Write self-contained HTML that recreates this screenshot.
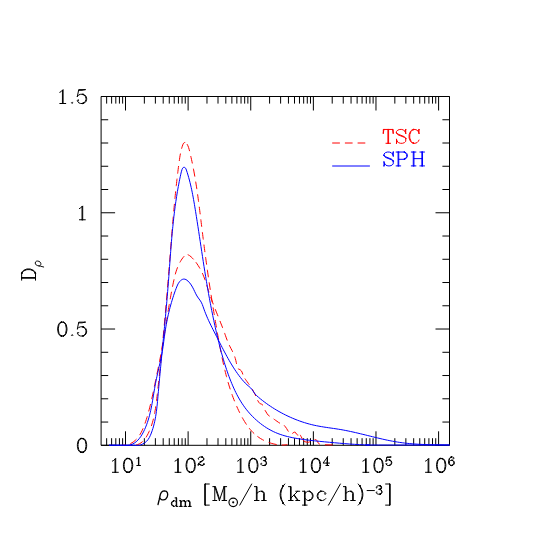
<!DOCTYPE html>
<html><head><meta charset="utf-8"><title>D rho</title>
<style>
html,body{margin:0;padding:0;background:#fff;font-family:"Liberation Sans",sans-serif}
svg{display:block}
.t{fill:none;stroke-linecap:round;stroke-linejoin:round;stroke-width:1.0}
.c{fill:none;stroke-width:1.0;stroke-linejoin:round}
</style></head><body>
<svg width="545" height="545" viewBox="0 0 545 545">
<desc>Plot of D_rho versus rho_dm [M_sun/h (kpc/h)^-3] on a log x axis from 10^1 to 10^6 and linear y axis 0, 0.5, 1, 1.5. Legend: TSC (red dashed), SPH (blue solid).</desc>
<rect width="545" height="545" fill="#fff"/>
<path d="M101.1 96.5H449.5V445.3H101.1Z" fill="none" stroke="#000" stroke-width="1"/>
<path d="M106.65 445.3v-7.1M106.65 96.5v7.1M111.61 445.3v-7.1M111.61 96.5v7.1M115.8 445.3v-7.1M115.8 96.5v7.1M119.43 445.3v-7.1M119.43 96.5v7.1M122.63 445.3v-7.1M122.63 96.5v7.1M125.5 445.3v-14M125.5 96.5v14M144.35 445.3v-7.1M144.35 96.5v7.1M155.38 445.3v-7.1M155.38 96.5v7.1M163.2 445.3v-7.1M163.2 96.5v7.1M169.27 445.3v-7.1M169.27 96.5v7.1M174.23 445.3v-7.1M174.23 96.5v7.1M178.42 445.3v-7.1M178.42 96.5v7.1M182.05 445.3v-7.1M182.05 96.5v7.1M185.25 445.3v-7.1M185.25 96.5v7.1M188.12 445.3v-14M188.12 96.5v14M206.97 445.3v-7.1M206.97 96.5v7.1M218 445.3v-7.1M218 96.5v7.1M225.82 445.3v-7.1M225.82 96.5v7.1M231.89 445.3v-7.1M231.89 96.5v7.1M236.85 445.3v-7.1M236.85 96.5v7.1M241.04 445.3v-7.1M241.04 96.5v7.1M244.67 445.3v-7.1M244.67 96.5v7.1M247.87 445.3v-7.1M247.87 96.5v7.1M250.74 445.3v-14M250.74 96.5v14M269.59 445.3v-7.1M269.59 96.5v7.1M280.62 445.3v-7.1M280.62 96.5v7.1M288.44 445.3v-7.1M288.44 96.5v7.1M294.51 445.3v-7.1M294.51 96.5v7.1M299.47 445.3v-7.1M299.47 96.5v7.1M303.66 445.3v-7.1M303.66 96.5v7.1M307.29 445.3v-7.1M307.29 96.5v7.1M310.49 445.3v-7.1M310.49 96.5v7.1M313.36 445.3v-14M313.36 96.5v14M332.21 445.3v-7.1M332.21 96.5v7.1M343.24 445.3v-7.1M343.24 96.5v7.1M351.06 445.3v-7.1M351.06 96.5v7.1M357.13 445.3v-7.1M357.13 96.5v7.1M362.09 445.3v-7.1M362.09 96.5v7.1M366.28 445.3v-7.1M366.28 96.5v7.1M369.91 445.3v-7.1M369.91 96.5v7.1M373.11 445.3v-7.1M373.11 96.5v7.1M375.98 445.3v-14M375.98 96.5v14M394.83 445.3v-7.1M394.83 96.5v7.1M405.86 445.3v-7.1M405.86 96.5v7.1M413.68 445.3v-7.1M413.68 96.5v7.1M419.75 445.3v-7.1M419.75 96.5v7.1M424.71 445.3v-7.1M424.71 96.5v7.1M428.9 445.3v-7.1M428.9 96.5v7.1M432.53 445.3v-7.1M432.53 96.5v7.1M435.73 445.3v-7.1M435.73 96.5v7.1M438.6 445.3v-14M438.6 96.5v14M101.1 445.3h14M449.5 445.3h-14M101.1 422.05h7.1M449.5 422.05h-7.1M101.1 398.79h7.1M449.5 398.79h-7.1M101.1 375.54h7.1M449.5 375.54h-7.1M101.1 352.29h7.1M449.5 352.29h-7.1M101.1 329.03h14M449.5 329.03h-14M101.1 305.78h7.1M449.5 305.78h-7.1M101.1 282.53h7.1M449.5 282.53h-7.1M101.1 259.27h7.1M449.5 259.27h-7.1M101.1 236.02h7.1M449.5 236.02h-7.1M101.1 212.77h14M449.5 212.77h-14M101.1 189.51h7.1M449.5 189.51h-7.1M101.1 166.26h7.1M449.5 166.26h-7.1M101.1 143.01h7.1M449.5 143.01h-7.1M101.1 119.75h7.1M449.5 119.75h-7.1M101.1 96.5h14M449.5 96.5h-14" fill="none" stroke="#000" stroke-width="1"/>
<path class="c" d="M129.5 445.3C129.83 445.29 130.83 445.24 131.5 445.22C132.17 445.2 132.83 445.21 133.5 445.18C134.16 445.15 134.83 445.13 135.49 445.04C136.14 444.95 136.81 444.83 137.45 444.64C138.08 444.44 138.7 444.16 139.29 443.86C139.88 443.56 140.45 443.21 141 442.83C141.54 442.45 142.06 442.02 142.55 441.58C143.04 441.13 143.5 440.65 143.94 440.15C144.38 439.65 144.8 439.13 145.19 438.59C145.58 438.05 145.95 437.49 146.3 436.93C146.65 436.36 146.98 435.78 147.3 435.19C147.62 434.61 147.92 434.01 148.22 433.42C148.52 432.82 148.8 432.22 149.08 431.61C149.36 431 149.62 430.39 149.88 429.78C150.14 429.16 150.39 428.55 150.63 427.92C150.86 427.3 151.09 426.67 151.31 426.04C151.52 425.41 151.73 424.78 151.94 424.14C152.14 423.51 152.33 422.87 152.52 422.23C152.71 421.59 152.88 420.95 153.06 420.3C153.23 419.66 153.4 419.01 153.55 418.37C153.71 417.72 153.86 417.07 154 416.42C154.14 415.76 154.28 415.11 154.41 414.46C154.54 413.8 154.67 413.15 154.79 412.49C154.91 411.84 155.03 411.18 155.14 410.53C155.25 409.87 155.36 409.21 155.47 408.55C155.57 407.89 155.67 407.23 155.76 406.57C155.86 405.91 155.95 405.25 156.04 404.59C156.13 403.93 156.22 403.27 156.3 402.61C156.39 401.95 156.47 401.29 156.55 400.62C156.63 399.96 156.71 399.3 156.79 398.64C156.87 397.98 156.94 397.31 157.02 396.65C157.1 395.99 157.17 395.33 157.25 394.66C157.32 394 157.4 393.34 157.47 392.68C157.55 392.01 157.62 391.35 157.69 390.69C157.77 390.03 157.84 389.36 157.91 388.7C157.99 388.04 158.06 387.38 158.13 386.71C158.21 386.05 158.28 385.39 158.35 384.72C158.43 384.06 158.5 383.4 158.57 382.74C158.64 382.07 158.71 381.41 158.78 380.75C158.86 380.08 158.93 379.42 159 378.76C159.07 378.09 159.14 377.43 159.21 376.77C159.28 376.11 159.35 375.44 159.42 374.78C159.49 374.12 159.56 373.45 159.63 372.79C159.7 372.13 159.77 371.46 159.84 370.8C159.91 370.14 159.98 369.47 160.05 368.81C160.12 368.15 160.18 367.49 160.25 366.82C160.32 366.16 160.39 365.5 160.46 364.83C160.53 364.17 160.59 363.51 160.66 362.84C160.73 362.18 160.8 361.52 160.86 360.85C160.93 360.19 161 359.53 161.06 358.86C161.13 358.2 161.2 357.53 161.26 356.87C161.33 356.21 161.39 355.54 161.46 354.88C161.53 354.22 161.59 353.55 161.66 352.89C161.72 352.23 161.79 351.56 161.85 350.9C161.92 350.24 161.98 349.57 162.05 348.91C162.11 348.25 162.18 347.58 162.24 346.92C162.3 346.25 162.37 345.59 162.43 344.93C162.49 344.26 162.56 343.6 162.62 342.94C162.69 342.27 162.75 341.61 162.81 340.94C162.87 340.28 162.94 339.62 163 338.95C163.06 338.29 163.13 337.63 163.19 336.96C163.25 336.3 163.31 335.63 163.37 334.97C163.44 334.31 163.5 333.64 163.56 332.98C163.62 332.31 163.68 331.65 163.74 330.99C163.8 330.32 163.87 329.66 163.93 328.99C163.99 328.33 164.05 327.67 164.11 327C164.17 326.34 164.23 325.67 164.29 325.01C164.35 324.35 164.41 323.68 164.47 323.02C164.53 322.35 164.59 321.69 164.65 321.03C164.71 320.36 164.77 319.7 164.83 319.03C164.89 318.37 164.95 317.71 165 317.04C165.06 316.38 165.12 315.71 165.18 315.05C165.24 314.38 165.3 313.72 165.36 313.06C165.41 312.39 165.47 311.73 165.53 311.06C165.59 310.4 165.65 309.73 165.71 309.07C165.76 308.41 165.82 307.74 165.88 307.08C165.94 306.41 165.99 305.75 166.05 305.08C166.11 304.42 166.16 303.76 166.22 303.09C166.28 302.43 166.34 301.76 166.39 301.1C166.45 300.43 166.51 299.77 166.56 299.11C166.62 298.44 166.67 297.78 166.73 297.11C166.79 296.45 166.84 295.78 166.9 295.12C166.95 294.46 167.01 293.79 167.07 293.13C167.12 292.46 167.18 291.8 167.23 291.13C167.29 290.47 167.34 289.8 167.4 289.14C167.45 288.48 167.51 287.81 167.56 287.15C167.62 286.48 167.67 285.82 167.73 285.15C167.78 284.49 167.84 283.82 167.89 283.16C167.95 282.49 168 281.83 168.06 281.17C168.11 280.5 168.17 279.84 168.22 279.17C168.27 278.51 168.33 277.84 168.38 277.18C168.44 276.51 168.49 275.85 168.54 275.18C168.6 274.52 168.65 273.86 168.71 273.19C168.76 272.53 168.81 271.86 168.87 271.2C168.92 270.53 168.97 269.87 169.03 269.2C169.08 268.54 169.13 267.87 169.19 267.21C169.24 266.54 169.29 265.88 169.34 265.21C169.4 264.55 169.45 263.89 169.5 263.22C169.56 262.56 169.61 261.89 169.66 261.23C169.71 260.56 169.77 259.9 169.82 259.23C169.87 258.57 169.93 257.9 169.98 257.24C170.03 256.57 170.08 255.91 170.13 255.24C170.19 254.58 170.24 253.92 170.29 253.25C170.34 252.59 170.4 251.92 170.45 251.26C170.5 250.59 170.55 249.93 170.61 249.26C170.66 248.6 170.71 247.93 170.76 247.27C170.82 246.6 170.87 245.94 170.92 245.27C170.97 244.61 171.03 243.94 171.08 243.28C171.13 242.62 171.18 241.95 171.24 241.29C171.29 240.62 171.34 239.96 171.4 239.29C171.45 238.63 171.5 237.96 171.56 237.3C171.61 236.63 171.66 235.97 171.72 235.3C171.77 234.64 171.82 233.98 171.88 233.31C171.93 232.65 171.98 231.98 172.04 231.32C172.09 230.65 172.15 229.99 172.2 229.32C172.26 228.66 172.31 227.99 172.37 227.33C172.42 226.67 172.48 226 172.53 225.34C172.59 224.67 172.64 224.01 172.7 223.34C172.76 222.68 172.81 222.01 172.87 221.35C172.92 220.69 172.98 220.02 173.04 219.36C173.1 218.69 173.15 218.03 173.21 217.36C173.27 216.7 173.33 216.04 173.38 215.37C173.44 214.71 173.5 214.04 173.56 213.38C173.62 212.71 173.68 212.05 173.74 211.39C173.8 210.72 173.86 210.06 173.92 209.39C173.98 208.73 174.04 208.07 174.1 207.4C174.16 206.74 174.22 206.07 174.29 205.41C174.35 204.75 174.41 204.08 174.47 203.42C174.53 202.75 174.6 202.09 174.66 201.43C174.73 200.76 174.79 200.1 174.85 199.44C174.92 198.77 174.98 198.11 175.05 197.45C175.12 196.78 175.18 196.12 175.25 195.46C175.31 194.79 175.38 194.13 175.45 193.47C175.52 192.8 175.58 192.14 175.65 191.48C175.72 190.81 175.79 190.15 175.86 189.49C175.93 188.82 176 188.16 176.07 187.5C176.14 186.83 176.21 186.17 176.29 185.51C176.36 184.84 176.43 184.18 176.5 183.52C176.58 182.86 176.65 182.19 176.72 181.53C176.8 180.87 176.87 180.21 176.95 179.54C177.03 178.88 177.1 178.22 177.18 177.56C177.26 176.89 177.33 176.23 177.41 175.57C177.49 174.91 177.61 173.92 177.65 173.58" stroke="#f00" stroke-dasharray="7.6 5.1" stroke-dashoffset="6.06"/>
<path class="c" d="M177.65 173.58C177.69 173.25 177.81 172.26 177.89 171.6C177.97 170.94 178.06 170.27 178.14 169.61C178.22 168.95 178.31 168.29 178.39 167.63C178.47 166.97 178.56 166.31 178.65 165.64C178.73 164.98 178.82 164.32 178.9 163.66C178.99 163 179.08 162.34 179.17 161.68C179.26 161.02 179.35 160.36 179.44 159.7C179.53 159.04 179.63 158.38 179.73 157.72C179.83 157.06 179.93 156.4 180.05 155.74C180.16 155.09 180.27 154.43 180.4 153.77C180.52 153.12 180.65 152.46 180.79 151.81C180.93 151.16 181.12 150.39 181.25 149.87C181.38 149.34 181.52 148.86 181.57 148.66" stroke="#f00" stroke-dasharray="7.6 5.1"/>
<path class="c" d="M181.57 148.66C181.67 148.34 181.93 147.37 182.13 146.74C182.33 146.1 182.52 145.45 182.78 144.85C183.04 144.24 183.3 143.48 183.71 143.08C184.12 142.69 184.75 142.37 185.24 142.46C185.74 142.55 186.4 143.36 186.69 143.62C186.98 143.88 186.93 143.96 186.98 144.03" stroke="#f00" stroke-dasharray="7.6 5.1"/>
<path class="c" d="M186.98 144.03C187.13 144.32 187.63 145.19 187.91 145.79C188.18 146.39 188.41 147.02 188.63 147.65C188.84 148.28 189.02 148.93 189.19 149.57C189.37 150.21 189.52 150.86 189.68 151.51C189.84 152.16 189.99 152.81 190.14 153.46C190.3 154.11 190.45 154.76 190.6 155.41C190.75 156.06 190.9 156.71 191.04 157.36C191.19 158.01 191.34 158.66 191.48 159.31C191.62 159.96 191.76 160.61 191.9 161.26C192.04 161.92 192.17 162.57 192.31 163.22C192.44 163.87 192.58 164.53 192.71 165.18C192.84 165.84 192.97 166.49 193.1 167.14C193.23 167.8 193.41 168.78 193.48 169.11" stroke="#f00" stroke-dasharray="7.6 5.1"/>
<path class="c" d="M193.48 169.11C193.54 169.44 193.73 170.42 193.85 171.07C193.97 171.73 194.09 172.38 194.21 173.04C194.32 173.7 194.44 174.35 194.56 175.01C194.67 175.67 194.79 176.32 194.9 176.98C195.01 177.64 195.13 178.3 195.24 178.95C195.35 179.61 195.45 180.27 195.56 180.93C195.67 181.58 195.78 182.24 195.88 182.9C195.99 183.56 196.09 184.22 196.19 184.88C196.29 185.54 196.4 186.2 196.5 186.85C196.6 187.51 196.7 188.17 196.8 188.83C196.89 189.49 196.99 190.15 197.09 190.81C197.18 191.47 197.28 192.13 197.37 192.79C197.47 193.45 197.56 194.11 197.65 194.77C197.74 195.43 197.84 196.09 197.93 196.75C198.02 197.41 198.11 198.07 198.2 198.73C198.29 199.4 198.38 200.06 198.46 200.72C198.55 201.38 198.64 202.04 198.73 202.7C198.81 203.36 198.9 204.02 198.98 204.68C199.07 205.35 199.15 206.01 199.24 206.67C199.32 207.33 199.41 207.99 199.49 208.65C199.57 209.31 199.66 209.98 199.74 210.64C199.82 211.3 199.9 211.96 199.99 212.62C200.07 213.28 200.15 213.95 200.23 214.61C200.31 215.27 200.39 215.93 200.47 216.59C200.56 217.25 200.64 217.92 200.72 218.58C200.8 219.24 200.88 219.9 200.96 220.56C201.04 221.23 201.12 221.89 201.2 222.55C201.28 223.21 201.36 223.87 201.44 224.54C201.52 225.2 201.6 225.86 201.68 226.52C201.76 227.18 201.84 227.84 201.92 228.51C202 229.17 202.08 229.83 202.17 230.49C202.25 231.15 202.33 231.82 202.41 232.48C202.49 233.14 202.57 233.8 202.66 234.46C202.74 235.12 202.82 235.79 202.9 236.45C202.99 237.11 203.07 237.77 203.15 238.43C203.23 239.09 203.32 239.76 203.4 240.42C203.49 241.08 203.57 241.74 203.65 242.4C203.74 243.06 203.82 243.72 203.91 244.39C203.99 245.05 204.08 245.71 204.16 246.37C204.25 247.03 204.34 247.69 204.42 248.35C204.51 249.01 204.59 249.68 204.68 250.34C204.77 251 204.85 251.66 204.94 252.32C205.03 252.98 205.12 253.64 205.21 254.3C205.29 254.96 205.38 255.62 205.47 256.29C205.56 256.95 205.65 257.61 205.74 258.27C205.83 258.93 205.92 259.59 206.01 260.25C206.1 260.91 206.19 261.57 206.28 262.23C206.37 262.89 206.46 263.55 206.55 264.21C206.64 264.87 206.73 265.53 206.82 266.19C206.92 266.85 207.01 267.52 207.1 268.18C207.19 268.84 207.29 269.5 207.38 270.16C207.47 270.82 207.57 271.48 207.66 272.14C207.76 272.8 207.85 273.46 207.94 274.12C208.04 274.78 208.13 275.44 208.23 276.1C208.33 276.76 208.42 277.42 208.52 278.08C208.61 278.74 208.71 279.4 208.81 280.06C208.9 280.71 209 281.37 209.1 282.03C209.2 282.69 209.3 283.35 209.39 284.01C209.49 284.67 209.59 285.33 209.69 285.99C209.79 286.65 209.89 287.31 209.99 287.97C210.09 288.63 210.19 289.29 210.29 289.95C210.39 290.61 210.49 291.26 210.6 291.92C210.7 292.58 210.8 293.24 210.9 293.9C211 294.56 211.11 295.22 211.21 295.88C211.31 296.53 211.42 297.19 211.52 297.85C211.63 298.51 211.73 299.17 211.83 299.83C211.94 300.49 212.04 301.14 212.15 301.8C212.26 302.46 212.36 303.12 212.47 303.78C212.57 304.44 212.68 305.09 212.79 305.75C212.89 306.41 213 307.07 213.11 307.73C213.22 308.38 213.33 309.04 213.43 309.7C213.54 310.36 213.65 311.02 213.76 311.67C213.87 312.33 213.98 312.99 214.09 313.65C214.2 314.3 214.31 314.96 214.42 315.62C214.53 316.28 214.64 316.94 214.75 317.59C214.86 318.25 214.97 318.91 215.09 319.56C215.2 320.22 215.31 320.88 215.42 321.54C215.54 322.19 215.65 322.85 215.76 323.51C215.88 324.16 215.99 324.82 216.1 325.48C216.22 326.14 216.33 326.79 216.45 327.45C216.56 328.11 216.67 328.76 216.79 329.42C216.9 330.08 217.02 330.73 217.14 331.39C217.25 332.05 217.37 332.7 217.48 333.36C217.6 334.02 217.72 334.67 217.83 335.33C217.95 335.99 218.07 336.64 218.19 337.3C218.3 337.95 218.42 338.61 218.54 339.27C218.66 339.92 218.78 340.58 218.9 341.24C219.02 341.89 219.14 342.55 219.26 343.2C219.38 343.86 219.5 344.51 219.62 345.17C219.74 345.83 219.87 346.48 219.99 347.14C220.11 347.79 220.24 348.45 220.36 349.1C220.49 349.76 220.62 350.41 220.74 351.06C220.87 351.72 221 352.37 221.13 353.03C221.26 353.68 221.39 354.34 221.52 354.99C221.65 355.64 221.79 356.3 221.92 356.95C222.06 357.6 222.19 358.25 222.33 358.91C222.47 359.56 222.61 360.21 222.75 360.86C222.89 361.52 223.03 362.17 223.17 362.82C223.32 363.47 223.46 364.12 223.61 364.77C223.75 365.42 223.9 366.07 224.05 366.72C224.2 367.37 224.35 368.02 224.51 368.67C224.66 369.32 224.82 369.96 224.98 370.61C225.14 371.26 225.3 371.91 225.46 372.55C225.62 373.2 225.78 373.85 225.95 374.49C226.11 375.14 226.28 375.78 226.45 376.43C226.63 377.07 226.8 377.72 226.98 378.36C227.15 379 227.33 379.65 227.51 380.29C227.69 380.93 227.87 381.57 228.06 382.21C228.24 382.85 228.43 383.49 228.62 384.13C228.81 384.77 229.01 385.41 229.2 386.04C229.4 386.68 229.6 387.32 229.8 387.95C230 388.59 230.21 389.22 230.42 389.86C230.63 390.49 230.84 391.12 231.05 391.75C231.26 392.38 231.48 393.02 231.7 393.64C231.92 394.27 232.15 394.9 232.37 395.53C232.6 396.16 232.83 396.78 233.07 397.4C233.3 398.03 233.54 398.65 233.78 399.27C234.02 399.9 234.27 400.52 234.51 401.13C234.76 401.75 235.01 402.37 235.27 402.99C235.52 403.6 235.78 404.22 236.05 404.83C236.31 405.44 236.58 406.05 236.85 406.66C237.12 407.27 237.4 407.88 237.68 408.48C237.95 409.09 238.24 409.69 238.52 410.3C238.81 410.9 239.1 411.5 239.4 412.1C239.69 412.69 239.99 413.29 240.29 413.88C240.6 414.48 240.91 415.07 241.22 415.66C241.53 416.24 241.95 417.01 242.17 417.41C242.39 417.82 242.47 417.96 242.53 418.07" stroke="#f00" stroke-dasharray="7.6 5.1"/>
<path class="c" d="M242.53 418.07C242.7 418.36 243.19 419.23 243.53 419.81C243.87 420.38 244.21 420.96 244.56 421.52C244.91 422.09 245.26 422.66 245.62 423.22C245.98 423.78 246.35 424.33 246.73 424.88C247.11 425.43 247.49 425.98 247.89 426.51C248.28 427.05 248.9 427.84 249.1 428.1" stroke="#f00" stroke-dasharray="7.6 5.1"/>
<path class="c" d="M249.1 428.1C249.32 428.36 249.94 429.14 250.37 429.65C250.8 430.15 251.25 430.65 251.7 431.14C252.15 431.64 252.61 432.12 253.08 432.59C253.55 433.06 254.03 433.53 254.52 433.98C255.01 434.43 255.55 434.88 256.04 435.28C256.52 435.68 257.18 436.18 257.41 436.36" stroke="#f00" stroke-dasharray="7.6 5.1"/>
<path class="c" d="M257.41 436.36C257.68 436.56 258.48 437.16 259.03 437.54C259.58 437.91 260.14 438.28 260.7 438.63C261.27 438.98 261.85 439.31 262.44 439.63C263.02 439.95 263.62 440.25 264.22 440.54C264.82 440.83 265.42 441.11 266.03 441.38C266.64 441.65 267.34 441.93 267.88 442.14C268.42 442.36 269.06 442.56 269.29 442.65" stroke="#f00" stroke-dasharray="7.6 5.1"/>
<path class="c" d="M269.29 442.65C269.61 442.75 270.56 443.07 271.2 443.26C271.84 443.45 272.48 443.63 273.12 443.79C273.77 443.96 274.42 444.11 275.07 444.24C275.73 444.37 276.39 444.48 277.04 444.58C277.7 444.68 278.37 444.76 279.03 444.82C279.69 444.89 280.36 444.94 281.02 444.97C281.69 445 282.36 445.02 283.02 445.01C283.69 445 284.36 444.97 285.02 444.92C285.68 444.86 286.59 444.72 287 444.67C287.42 444.61 287.42 444.61 287.5 444.6" stroke="#f00" stroke-dasharray="7.6 5.1"/>

<path class="c" d="M122.5 445.3C122.83 445.27 123.83 445.22 124.49 445.15C125.16 445.07 125.82 444.97 126.47 444.83C127.12 444.7 127.77 444.54 128.4 444.34C129.03 444.14 129.66 443.91 130.27 443.64C130.88 443.38 131.48 443.08 132.06 442.74C132.63 442.4 133.18 442.02 133.72 441.62C134.25 441.23 134.76 440.8 135.26 440.35C135.75 439.9 136.22 439.43 136.67 438.94C137.12 438.45 137.55 437.94 137.97 437.42C138.38 436.9 138.77 436.36 139.15 435.81C139.53 435.26 139.89 434.7 140.23 434.13C140.58 433.56 140.9 432.97 141.21 432.38C141.52 431.79 141.81 431.19 142.1 430.59C142.39 429.99 142.66 429.38 142.93 428.77C143.19 428.16 143.45 427.54 143.7 426.92C143.95 426.31 144.19 425.68 144.42 425.06C144.65 424.43 144.87 423.8 145.09 423.17C145.31 422.54 145.52 421.91 145.73 421.28C145.94 420.65 146.15 420.01 146.35 419.38C146.55 418.74 146.75 418.11 146.95 417.47C147.14 416.83 147.33 416.19 147.52 415.55C147.71 414.91 147.89 414.27 148.07 413.63C148.26 412.99 148.43 412.35 148.61 411.7C148.79 411.06 148.96 410.42 149.13 409.77C149.3 409.13 149.47 408.48 149.63 407.84C149.8 407.19 149.96 406.54 150.12 405.9C150.28 405.25 150.44 404.6 150.59 403.95C150.75 403.3 150.9 402.65 151.05 402C151.2 401.36 151.35 400.71 151.5 400.06C151.65 399.41 151.79 398.75 151.94 398.1C152.08 397.45 152.22 396.8 152.36 396.15C152.51 395.5 152.65 394.85 152.78 394.19C152.92 393.54 153.06 392.89 153.2 392.24C153.34 391.58 153.47 390.93 153.61 390.28C153.74 389.63 153.88 388.97 154.01 388.32C154.15 387.67 154.28 387.01 154.42 386.36C154.55 385.71 154.68 385.05 154.82 384.4C154.95 383.75 155.09 383.1 155.22 382.44C155.35 381.79 155.49 381.14 155.62 380.48C155.76 379.83 155.89 379.18 156.03 378.52C156.16 377.87 156.3 377.22 156.43 376.57C156.57 375.91 156.7 375.26 156.84 374.61C156.97 373.95 157.11 373.3 157.24 372.65C157.38 372 157.51 371.34 157.65 370.69C157.78 370.04 157.92 369.38 158.05 368.73C158.18 368.08 158.32 367.42 158.45 366.77C158.58 366.12 158.72 365.46 158.85 364.81C158.98 364.16 159.11 363.5 159.24 362.85C159.37 362.2 159.5 361.54 159.63 360.89C159.76 360.23 159.89 359.58 160.02 358.92C160.15 358.27 160.28 357.62 160.4 356.96C160.53 356.31 160.66 355.65 160.78 355C160.91 354.34 161.03 353.69 161.15 353.03C161.28 352.38 161.4 351.72 161.52 351.07C161.64 350.41 161.76 349.75 161.88 349.1C162 348.44 162.12 347.79 162.24 347.13C162.35 346.47 162.47 345.82 162.58 345.16C162.7 344.5 162.81 343.85 162.93 343.19C163.04 342.53 163.15 341.87 163.26 341.22C163.38 340.56 163.49 339.9 163.6 339.25C163.71 338.59 163.82 337.93 163.93 337.27C164.04 336.61 164.14 335.96 164.25 335.3C164.36 334.64 164.47 333.98 164.57 333.32C164.68 332.67 164.79 332.01 164.89 331.35C165 330.69 165.11 330.03 165.21 329.38C165.32 328.72 165.42 328.06 165.53 327.4C165.63 326.74 165.74 326.08 165.84 325.43C165.95 324.77 166.05 324.11 166.16 323.45C166.26 322.79 166.37 322.13 166.47 321.47C166.58 320.82 166.68 320.16 166.79 319.5C166.89 318.84 167 318.18 167.1 317.52C167.21 316.87 167.32 316.21 167.42 315.55C167.53 314.89 167.63 314.23 167.74 313.57C167.85 312.92 167.95 312.26 168.06 311.6C168.17 310.94 168.28 310.28 168.38 309.63C168.49 308.97 168.6 308.31 168.71 307.65C168.82 306.99 168.93 306.34 169.04 305.68C169.15 305.02 169.26 304.37 169.38 303.71C169.49 303.05 169.6 302.39 169.71 301.74C169.83 301.08 169.94 300.42 170.06 299.77C170.17 299.11 170.29 298.45 170.41 297.8C170.53 297.14 170.65 296.48 170.77 295.83C170.89 295.17 171.01 294.52 171.13 293.86C171.25 293.21 171.37 292.55 171.5 291.9C171.62 291.24 171.75 290.59 171.87 289.93C172 289.28 172.15 288.5 172.26 287.97C172.36 287.44 172.46 286.95 172.5 286.74" stroke="#f00" stroke-dasharray="7.6 5.1" stroke-dashoffset="4.53"/>
<path class="c" d="M172.5 286.74C172.57 286.42 172.77 285.44 172.9 284.78C173.04 284.13 173.17 283.48 173.31 282.82C173.45 282.17 173.59 281.52 173.73 280.87C173.87 280.22 174.02 279.57 174.16 278.92C174.31 278.27 174.46 277.62 174.62 276.97C174.77 276.32 174.93 275.67 175.09 275.03C175.26 274.38 175.43 273.73 175.62 273.09C175.8 272.45 175.99 271.81 176.19 271.18C176.4 270.54 176.61 269.91 176.83 269.28C177.05 268.66 177.29 268.03 177.53 267.41C177.78 266.79 178.03 266.17 178.3 265.56C178.57 264.96 178.89 264.28 179.16 263.76C179.42 263.24 179.75 262.66 179.87 262.44" stroke="#f00" stroke-dasharray="7.6 5.1"/>
<path class="c" d="M179.87 262.44C180.03 262.15 180.52 261.28 180.87 260.71C181.22 260.14 181.57 259.57 181.95 259.02C182.33 258.48 182.73 257.94 183.15 257.42C183.57 256.91 184 256.38 184.49 255.94C184.98 255.51 185.54 255.04 186.08 254.82C186.62 254.6 187.45 254.66 187.72 254.63" stroke="#f00" stroke-dasharray="7.6 5.1"/>
<path class="c" d="M187.72 254.63C188.02 254.78 188.93 255.19 189.49 255.55C190.05 255.91 190.56 256.35 191.06 256.79C191.56 257.23 192.03 257.7 192.49 258.18C192.96 258.66 193.4 259.16 193.83 259.67C194.27 260.17 194.76 260.79 195.1 261.22C195.44 261.64 195.73 262.04 195.86 262.21" stroke="#f00" stroke-dasharray="7.6 5.1"/>
<path class="c" d="M195.86 262.21C196.06 262.48 196.64 263.29 197.02 263.84C197.4 264.38 197.77 264.94 198.13 265.5C198.49 266.06 198.85 266.63 199.19 267.2C199.53 267.77 199.87 268.34 200.2 268.92C200.52 269.51 200.83 270.1 201.14 270.69C201.44 271.28 201.73 271.88 202.02 272.49C202.3 273.09 202.58 273.7 202.85 274.31C203.11 274.92 203.37 275.53 203.62 276.15C203.87 276.77 204.11 277.39 204.35 278.01C204.58 278.64 204.8 279.27 205.02 279.9C205.24 280.53 205.45 281.16 205.66 281.79C205.87 282.42 206.1 283.14 206.28 283.69C206.46 284.25 206.66 284.89 206.73 285.12" stroke="#f00" stroke-dasharray="7.6 5.1"/>
<path class="c" d="M206.73 285.12C206.83 285.44 207.13 286.4 207.33 287.03C207.52 287.67 207.72 288.31 207.92 288.94C208.12 289.58 208.32 290.22 208.52 290.85C208.73 291.49 208.93 292.12 209.14 292.75C209.35 293.39 209.56 294.02 209.78 294.65C209.99 295.28 210.21 295.91 210.43 296.54C210.66 297.17 210.88 297.8 211.11 298.42C211.33 299.05 211.56 299.68 211.79 300.3C212.03 300.93 212.26 301.55 212.49 302.18C212.73 302.8 212.97 303.42 213.21 304.04C213.44 304.67 213.69 305.29 213.93 305.91C214.17 306.53 214.44 307.23 214.66 307.77C214.87 308.32 215.12 308.93 215.21 309.17" stroke="#f00" stroke-dasharray="7.6 5.1"/>
<path class="c" d="M215.21 309.17C215.33 309.48 215.7 310.41 215.95 311.03C216.2 311.65 216.45 312.26 216.69 312.88C216.94 313.5 217.19 314.12 217.44 314.74C217.69 315.36 217.94 315.97 218.19 316.59C218.44 317.21 218.69 317.83 218.93 318.45C219.18 319.07 219.43 319.69 219.68 320.31C219.93 320.92 220.17 321.54 220.42 322.16C220.67 322.78 220.91 323.4 221.15 324.02C221.4 324.64 221.64 325.27 221.88 325.89C222.12 326.51 222.36 327.13 222.6 327.75C222.84 328.38 223.08 329 223.31 329.62C223.55 330.25 223.78 330.87 224.01 331.5C224.24 332.12 224.58 333.07 224.69 333.38" stroke="#f00" stroke-dasharray="7.6 5.1"/>
<path class="c" d="M224.69 333.38C224.8 333.69 225.14 334.64 225.36 335.26C225.58 335.89 225.8 336.52 226.03 337.15C226.26 337.78 226.48 338.4 226.71 339.03C226.95 339.65 227.18 340.28 227.43 340.9C227.67 341.52 227.93 342.13 228.19 342.75C228.45 343.36 228.84 344.19 229.01 344.57C229.18 344.95 229.18 344.95 229.22 345.02" stroke="#f00" stroke-dasharray="7.6 5.1"/>
<path class="c" d="M229.22 345.02C229.37 345.32 229.8 346.22 230.1 346.82C230.4 347.41 230.71 348.01 231.01 348.6C231.32 349.19 231.63 349.78 231.94 350.37C232.24 350.97 232.54 351.56 232.83 352.16C233.12 352.76 233.4 353.37 233.67 353.98C233.94 354.59 234.26 355.4 234.43 355.83C234.6 356.25 234.65 356.41 234.69 356.53" stroke="#f00" stroke-dasharray="7.6 5.1"/>
<path class="c" d="M234.69 356.53C234.79 356.85 235.11 357.8 235.29 358.44C235.48 359.08 235.64 359.72 235.8 360.37C235.96 361.02 236.1 361.67 236.24 362.32C236.38 362.97 236.51 363.63 236.65 364.28C236.8 364.93 236.9 365.6 237.09 366.23C237.29 366.86 237.63 367.62 237.83 368.08C238.02 368.53 238.2 368.82 238.28 368.97" stroke="#f00" stroke-dasharray="7.6 5.1"/>
<path class="c" d="M238.28 368.97C238.59 369.09 239.58 369.37 240.12 369.72C240.66 370.07 241.14 370.54 241.51 371.06C241.88 371.58 242.1 372.24 242.34 372.85C242.58 373.46 242.72 374.13 242.96 374.75C243.2 375.37 243.46 375.99 243.76 376.58C244.06 377.17 244.58 377.98 244.77 378.31C244.96 378.63 244.88 378.49 244.9 378.52" stroke="#f00" stroke-dasharray="7.6 5.1"/>
<path class="c" d="M244.9 378.52C245.09 378.8 245.64 379.63 246.02 380.18C246.41 380.72 246.8 381.26 247.2 381.8C247.59 382.33 247.99 382.87 248.38 383.41C248.77 383.95 249.17 384.48 249.55 385.03C249.93 385.58 250.3 386.13 250.67 386.69C251.03 387.25 251.47 387.96 251.73 388.38C252 388.81 252.17 389.09 252.25 389.24" stroke="#f00" stroke-dasharray="7.6 5.1"/>
<path class="c" d="M252.25 389.24C252.42 389.52 252.92 390.39 253.24 390.97C253.56 391.56 253.88 392.15 254.18 392.74C254.49 393.33 254.78 393.93 255.07 394.53C255.36 395.13 255.65 395.73 255.92 396.34C256.2 396.95 256.47 397.56 256.73 398.17C256.99 398.79 257.34 399.68 257.49 400.02C257.63 400.37 257.57 400.22 257.58 400.25" stroke="#f00" stroke-dasharray="7.6 5.1"/>
<path class="c" d="M257.58 400.25C257.75 400.54 258.23 401.44 258.6 401.97C258.98 402.51 259.31 403.1 259.82 403.47C260.33 403.85 261.12 403.91 261.67 404.23C262.21 404.56 262.73 404.91 263.09 405.42C263.45 405.93 263.58 406.66 263.83 407.28C264.08 407.9 264.37 408.63 264.57 409.13C264.78 409.64 264.97 410.1 265.05 410.29" stroke="#f00" stroke-dasharray="7.6 5.1"/>
<path class="c" d="M265.05 410.29C265.23 410.57 265.74 411.43 266.09 412C266.43 412.57 266.75 413.17 267.12 413.71C267.49 414.26 267.84 414.83 268.31 415.28C268.78 415.73 269.41 416.03 269.96 416.41C270.51 416.78 271.06 417.16 271.61 417.54C272.16 417.91 272.92 418.43 273.26 418.67C273.61 418.9 273.61 418.9 273.68 418.95" stroke="#f00" stroke-dasharray="7.6 5.1"/>
<path class="c" d="M273.68 418.95C273.95 419.14 274.77 419.72 275.31 420.1C275.85 420.49 276.4 420.87 276.94 421.26C277.49 421.64 278.02 422.05 278.57 422.41C279.13 422.78 279.7 423.12 280.29 423.43C280.87 423.75 281.48 424.02 282.08 424.31C282.68 424.61 283.54 425.03 283.88 425.19C284.22 425.36 284.07 425.29 284.1 425.3" stroke="#f00" stroke-dasharray="7.6 5.1"/>
<path class="c" d="M284.1 425.3C284.32 425.56 284.98 426.31 285.39 426.84C285.8 427.36 286.21 427.89 286.57 428.44C286.93 429 287.2 429.62 287.55 430.18C287.9 430.75 288.23 431.33 288.66 431.83C289.09 432.32 289.58 432.89 290.15 433.16C290.72 433.44 291.72 433.42 292.09 433.47C292.45 433.53 292.3 433.49 292.34 433.49" stroke="#f00" stroke-dasharray="7.6 5.1"/>
<path class="c" d="M292.34 433.49C292.61 433.3 293.45 432.53 293.94 432.33C294.44 432.12 294.92 432 295.32 432.28C295.73 432.55 295.96 433.5 296.38 433.97C296.81 434.44 297.31 434.93 297.88 435.09C298.45 435.25 299.4 434.96 299.8 434.93C300.19 434.89 300.16 434.88 300.24 434.87" stroke="#f00" stroke-dasharray="7.6 5.1"/>
<path class="c" d="M300.24 434.87C300.39 435.16 300.84 436.06 301.15 436.65C301.46 437.24 301.76 437.83 302.09 438.41C302.42 438.99 302.91 439.77 303.13 440.12C303.34 440.48 303.34 440.48 303.39 440.55" stroke="#f00" stroke-dasharray="7.6 5.1"/>
<path class="c" d="M303.39 440.55C303.63 440.75 304.29 441.46 304.86 441.72C305.42 441.98 306.14 442.05 306.79 442.13C307.45 442.21 308.17 442.35 308.79 442.2C309.41 442.04 309.94 441.54 310.51 441.21C311.09 440.88 311.64 440.49 312.24 440.21C312.84 439.93 313.73 439.66 314.12 439.52C314.51 439.37 314.51 439.37 314.59 439.34" stroke="#f00" stroke-dasharray="7.6 5.1"/>
<path class="c" d="M314.59 439.34C314.89 439.43 315.94 439.52 316.42 439.9C316.89 440.28 317.1 441.04 317.44 441.62C317.78 442.19 318.03 442.88 318.46 443.33C318.9 443.79 319.47 444.13 320.06 444.36C320.65 444.59 321.34 444.65 322 444.72C322.66 444.79 323.33 444.74 324 444.76C324.67 444.77 325.33 444.78 326 444.79C326.67 444.81 327.33 444.82 328 444.83C328.67 444.84 329.33 444.86 330 444.87C330.67 444.88 331.33 444.89 332 444.91C332.67 444.92 333.33 444.93 334 444.94C334.67 444.96 335.5 444.97 336 444.98C336.5 444.99 336.83 445 337 445" stroke="#f00" stroke-dasharray="7.6 5.1"/>

<path class="c" d="M109 445.2C112.83 445.2 127.8 445.18 132 445.2C136.2 445.22 133.41 445.28 134.2 445.3C135 445.32 135.89 445.32 136.78 445.3C137.66 445.28 138.6 445.37 139.5 445.2C140.4 445.03 141.33 444.64 142.17 444.27C143.01 443.9 143.84 443.46 144.56 442.97C145.29 442.49 145.94 441.94 146.53 441.36C147.12 440.79 147.63 440.16 148.11 439.51C148.58 438.86 148.99 438.16 149.38 437.46C149.77 436.76 150.1 436.02 150.43 435.28C150.76 434.54 151.05 433.79 151.34 433.03C151.63 432.27 151.9 431.51 152.17 430.74C152.43 429.97 152.68 429.2 152.91 428.42C153.15 427.64 153.37 426.86 153.59 426.07C153.8 425.28 154 424.49 154.19 423.69C154.38 422.89 154.56 422.09 154.74 421.29C154.91 420.48 155.07 419.67 155.22 418.86C155.38 418.05 155.52 417.23 155.66 416.41C155.8 415.59 155.93 414.77 156.05 413.95C156.18 413.12 156.29 412.3 156.4 411.47C156.51 410.64 156.62 409.81 156.72 408.97C156.82 408.14 156.91 407.31 157 406.47C157.09 405.63 157.18 404.79 157.27 403.96C157.35 403.12 157.43 402.28 157.51 401.43C157.59 400.59 157.66 399.75 157.74 398.91C157.81 398.07 157.89 397.23 157.96 396.38C158.03 395.54 158.11 394.7 158.18 393.86C158.25 393.02 158.33 392.17 158.4 391.33C158.48 390.49 158.55 389.65 158.63 388.81C158.7 387.97 158.78 387.13 158.85 386.29C158.93 385.45 159 384.62 159.08 383.78C159.16 382.94 159.23 382.1 159.31 381.26C159.39 380.42 159.46 379.59 159.54 378.75C159.62 377.91 159.7 377.07 159.77 376.24C159.85 375.4 159.93 374.57 160.01 373.73C160.09 372.89 160.17 372.06 160.24 371.22C160.32 370.39 160.4 369.55 160.48 368.72C160.56 367.88 160.64 367.05 160.72 366.21C160.8 365.38 160.88 364.54 160.96 363.71C161.04 362.88 161.12 362.04 161.2 361.21C161.28 360.38 161.36 359.54 161.44 358.71C161.52 357.88 161.6 357.04 161.68 356.21C161.76 355.38 161.84 354.55 161.92 353.71C162 352.88 162.08 352.05 162.16 351.22C162.24 350.39 162.32 349.56 162.4 348.72C162.48 347.89 162.56 347.06 162.64 346.23C162.72 345.4 162.8 344.57 162.88 343.74C162.97 342.9 163.05 342.07 163.13 341.24C163.21 340.41 163.29 339.58 163.37 338.75C163.45 337.92 163.53 337.09 163.61 336.26C163.69 335.43 163.77 334.6 163.85 333.77C163.92 332.94 164 332.11 164.08 331.28C164.16 330.45 164.24 329.62 164.32 328.79C164.4 327.96 164.48 327.13 164.56 326.3C164.64 325.47 164.71 324.64 164.79 323.81C164.87 322.98 164.95 322.15 165.02 321.32C165.1 320.49 165.18 319.66 165.26 318.83C165.33 318 165.41 317.17 165.49 316.34C165.56 315.51 165.64 314.68 165.72 313.85C165.79 313.02 165.87 312.18 165.94 311.35C166.02 310.52 166.09 309.69 166.17 308.86C166.24 308.03 166.32 307.2 166.39 306.37C166.46 305.54 166.54 304.71 166.61 303.88C166.68 303.05 166.75 302.22 166.83 301.39C166.9 300.55 166.97 299.72 167.04 298.89C167.11 298.06 167.18 297.23 167.25 296.4C167.32 295.56 167.39 294.73 167.46 293.9C167.53 293.07 167.6 292.24 167.67 291.4C167.74 290.57 167.8 289.74 167.87 288.91C167.94 288.07 168 287.24 168.07 286.41C168.14 285.57 168.2 284.74 168.27 283.91C168.33 283.07 168.4 282.24 168.46 281.4C168.52 280.57 168.59 279.74 168.65 278.9C168.71 278.07 168.77 277.23 168.84 276.4C168.9 275.56 168.96 274.73 169.02 273.89C169.08 273.06 169.14 272.22 169.21 271.39C169.27 270.55 169.33 269.71 169.39 268.88C169.45 268.04 169.51 267.21 169.57 266.37C169.63 265.54 169.69 264.7 169.75 263.86C169.81 263.03 169.88 262.19 169.94 261.36C170 260.52 170.06 259.68 170.12 258.85C170.18 258.01 170.25 257.18 170.31 256.34C170.37 255.5 170.43 254.67 170.5 253.83C170.56 253 170.62 252.16 170.69 251.32C170.75 250.49 170.82 249.65 170.88 248.82C170.95 247.98 171.01 247.15 171.08 246.31C171.15 245.47 171.21 244.64 171.28 243.8C171.35 242.97 171.42 242.13 171.49 241.3C171.56 240.46 171.63 239.63 171.7 238.79C171.77 237.96 171.84 237.13 171.92 236.29C171.99 235.46 172.07 234.62 172.14 233.79C172.22 232.96 172.29 232.12 172.37 231.29C172.45 230.46 172.53 229.62 172.61 228.79C172.69 227.96 172.77 227.12 172.86 226.29C172.94 225.46 173.03 224.63 173.11 223.8C173.2 222.96 173.29 222.13 173.38 221.3C173.47 220.47 173.56 219.64 173.65 218.81C173.74 217.98 173.84 217.15 173.93 216.32C174.03 215.49 174.13 214.66 174.23 213.83C174.33 213.01 174.43 212.18 174.53 211.35C174.63 210.52 174.74 209.69 174.85 208.87C174.95 208.04 175.06 207.21 175.17 206.38C175.29 205.56 175.4 204.73 175.51 203.9C175.63 203.08 175.75 202.25 175.87 201.43C175.99 200.6 176.11 199.78 176.24 198.95C176.36 198.12 176.49 197.3 176.62 196.47C176.75 195.65 176.88 194.83 177.01 194C177.15 193.18 177.28 192.35 177.42 191.53C177.56 190.7 177.71 189.88 177.85 189.06C178 188.23 178.14 187.41 178.29 186.59C178.44 185.76 178.6 184.94 178.75 184.12C178.91 183.29 179.07 182.47 179.23 181.65C179.39 180.83 179.56 180 179.72 179.18C179.89 178.36 180.06 177.54 180.24 176.72C180.41 175.9 180.59 175.08 180.77 174.27C180.95 173.45 181.1 172.64 181.32 171.82C181.54 171.01 181.72 170.13 182.07 169.38C182.43 168.63 182.94 167.59 183.47 167.33C184.01 167.07 184.8 167.38 185.29 167.84C185.78 168.29 186.08 169.27 186.4 170.06C186.73 170.84 186.96 171.73 187.23 172.57C187.49 173.4 187.74 174.24 187.99 175.07C188.23 175.9 188.47 176.73 188.7 177.55C188.94 178.38 189.16 179.2 189.38 180.03C189.59 180.85 189.8 181.67 190.01 182.49C190.21 183.3 190.41 184.12 190.6 184.94C190.79 185.75 190.98 186.56 191.16 187.38C191.34 188.19 191.52 189 191.69 189.81C191.86 190.62 192.03 191.43 192.19 192.24C192.35 193.05 192.51 193.86 192.67 194.67C192.82 195.47 192.98 196.28 193.13 197.09C193.27 197.9 193.42 198.71 193.56 199.52C193.71 200.32 193.85 201.13 193.99 201.94C194.13 202.75 194.27 203.56 194.41 204.38C194.54 205.19 194.68 206 194.81 206.81C194.95 207.63 195.08 208.44 195.22 209.26C195.35 210.07 195.48 210.89 195.61 211.71C195.75 212.53 195.88 213.35 196.01 214.17C196.14 214.99 196.27 215.81 196.4 216.64C196.53 217.46 196.66 218.28 196.79 219.11C196.92 219.93 197.05 220.76 197.18 221.59C197.31 222.41 197.44 223.24 197.56 224.07C197.69 224.9 197.82 225.73 197.95 226.56C198.07 227.39 198.2 228.22 198.33 229.05C198.46 229.88 198.58 230.71 198.71 231.54C198.83 232.37 198.96 233.21 199.09 234.04C199.21 234.87 199.34 235.7 199.46 236.54C199.59 237.37 199.72 238.2 199.84 239.04C199.97 239.87 200.09 240.71 200.22 241.54C200.34 242.37 200.47 243.21 200.6 244.04C200.72 244.88 200.85 245.71 200.97 246.55C201.1 247.38 201.22 248.22 201.35 249.05C201.48 249.88 201.6 250.72 201.73 251.55C201.85 252.39 201.98 253.22 202.11 254.05C202.23 254.89 202.36 255.72 202.49 256.55C202.61 257.38 202.74 258.22 202.87 259.05C203 259.88 203.13 260.71 203.25 261.54C203.38 262.37 203.51 263.2 203.64 264.03C203.77 264.86 203.9 265.69 204.03 266.52C204.16 267.35 204.29 268.17 204.42 269C204.55 269.83 204.68 270.65 204.81 271.48C204.95 272.3 205.08 273.13 205.21 273.95C205.35 274.77 205.48 275.59 205.61 276.41C205.75 277.24 205.88 278.06 206.02 278.87C206.15 279.69 206.29 280.51 206.43 281.33C206.56 282.15 206.7 282.97 206.84 283.78C206.98 284.6 207.12 285.42 207.26 286.23C207.4 287.05 207.54 287.86 207.68 288.68C207.82 289.49 207.97 290.3 208.11 291.12C208.25 291.93 208.4 292.75 208.54 293.56C208.69 294.37 208.84 295.18 208.98 296C209.13 296.81 209.28 297.62 209.43 298.43C209.58 299.25 209.73 300.06 209.88 300.87C210.03 301.68 210.19 302.49 210.34 303.3C210.49 304.12 210.65 304.93 210.81 305.74C210.96 306.55 211.12 307.36 211.28 308.18C211.44 308.99 211.6 309.8 211.76 310.61C211.92 311.43 212.08 312.24 212.25 313.05C212.41 313.87 212.58 314.68 212.74 315.49C212.91 316.31 213.08 317.12 213.25 317.94C213.42 318.75 213.59 319.57 213.76 320.39C213.93 321.2 214.11 322.02 214.28 322.84C214.46 323.65 214.63 324.47 214.81 325.29C214.99 326.11 215.17 326.93 215.35 327.75C215.53 328.57 215.72 329.39 215.9 330.21C216.09 331.03 216.27 331.86 216.46 332.68C216.65 333.5 216.84 334.33 217.03 335.15C217.22 335.98 217.42 336.8 217.61 337.63C217.81 338.45 218.01 339.28 218.21 340.1C218.41 340.93 218.61 341.75 218.82 342.58C219.02 343.4 219.23 344.23 219.44 345.05C219.65 345.88 219.86 346.7 220.07 347.53C220.29 348.35 220.5 349.17 220.72 349.99C220.94 350.82 221.16 351.64 221.39 352.46C221.61 353.28 221.84 354.1 222.07 354.92C222.3 355.74 222.54 356.55 222.77 357.37C223.01 358.18 223.25 359 223.49 359.81C223.73 360.63 223.98 361.44 224.22 362.25C224.47 363.06 224.72 363.87 224.98 364.67C225.23 365.48 225.49 366.28 225.75 367.08C226.01 367.89 226.28 368.69 226.55 369.48C226.82 370.28 227.09 371.08 227.36 371.87C227.64 372.66 227.92 373.45 228.2 374.24C228.49 375.03 228.77 375.82 229.06 376.6C229.35 377.38 229.65 378.16 229.95 378.94C230.25 379.71 230.55 380.49 230.86 381.26C231.16 382.03 231.47 382.79 231.79 383.56C232.11 384.32 232.43 385.08 232.75 385.84C233.08 386.59 233.41 387.35 233.75 388.09C234.09 388.84 234.43 389.59 234.78 390.33C235.13 391.07 235.49 391.81 235.85 392.54C236.21 393.27 236.58 394 236.96 394.72C237.34 395.45 237.72 396.17 238.12 396.88C238.51 397.6 238.91 398.31 239.32 399.01C239.73 399.72 240.15 400.42 240.58 401.12C241 401.81 241.44 402.5 241.89 403.19C242.33 403.88 242.79 404.56 243.25 405.23C243.72 405.91 244.19 406.58 244.68 407.24C245.17 407.9 245.66 408.56 246.17 409.22C246.68 409.87 247.2 410.52 247.73 411.16C248.26 411.8 248.81 412.43 249.36 413.06C249.91 413.69 250.48 414.31 251.05 414.93C251.63 415.54 252.21 416.15 252.81 416.74C253.4 417.34 254.01 417.93 254.62 418.51C255.24 419.1 255.87 419.67 256.5 420.23C257.13 420.79 257.78 421.35 258.43 421.89C259.08 422.43 259.74 422.96 260.41 423.48C261.08 424.01 261.76 424.52 262.45 425.02C263.13 425.51 263.83 426 264.53 426.47C265.23 426.95 265.94 427.41 266.65 427.86C267.37 428.31 268.09 428.74 268.82 429.17C269.55 429.59 270.28 430 271.03 430.39C271.77 430.78 272.52 431.16 273.27 431.52C274.02 431.89 274.78 432.24 275.55 432.57C276.31 432.9 277.08 433.22 277.86 433.52C278.63 433.82 279.41 434.11 280.2 434.38C280.98 434.66 281.77 434.92 282.56 435.17C283.35 435.41 284.15 435.65 284.95 435.87C285.75 436.1 286.55 436.31 287.36 436.52C288.17 436.72 288.98 436.91 289.79 437.09C290.6 437.28 291.41 437.45 292.23 437.62C293.05 437.79 293.87 437.94 294.69 438.09C295.51 438.25 296.33 438.39 297.16 438.53C297.98 438.67 298.8 438.8 299.63 438.92C300.46 439.05 301.28 439.17 302.11 439.29C302.94 439.41 303.77 439.52 304.59 439.64C305.42 439.75 306.25 439.85 307.08 439.96C307.91 440.06 308.74 440.16 309.57 440.26C310.4 440.36 311.22 440.46 312.05 440.55C312.88 440.65 313.71 440.74 314.55 440.83C315.38 440.92 316.21 441 317.04 441.09C317.87 441.17 318.7 441.26 319.53 441.34C320.36 441.42 321.19 441.5 322.02 441.58C322.86 441.66 323.69 441.74 324.52 441.82C325.35 441.9 326.18 441.97 327.02 442.05C327.85 442.13 328.68 442.2 329.51 442.28C330.35 442.36 331.18 442.43 332.01 442.51C332.85 442.59 333.68 442.66 334.51 442.74C335.35 442.81 336.18 442.89 337.01 442.96C337.85 443.04 338.68 443.11 339.51 443.19C340.35 443.26 341.18 443.33 342.01 443.4C342.85 443.47 343.68 443.54 344.51 443.61C345.35 443.68 346.18 443.75 347.01 443.81C347.85 443.88 348.68 443.94 349.51 444C350.35 444.06 351.18 444.12 352.02 444.18C352.85 444.24 353.68 444.29 354.52 444.34C355.35 444.4 356.18 444.45 357.02 444.49C357.85 444.54 358.68 444.59 359.51 444.63C360.35 444.67 361.18 444.71 362.01 444.74C362.85 444.78 363.68 444.81 364.51 444.84C365.34 444.87 366.18 444.9 367.01 444.92C367.84 444.94 368.67 444.96 369.5 444.97C370.34 444.98 358.67 445 372 445C385.33 445 436.58 445 449.5 445" stroke="#00f"/>
<path class="c" d="M109 445.2C111.17 445.2 119.36 445.18 122 445.2C124.64 445.22 123.93 445.28 124.84 445.3C125.76 445.32 126.63 445.34 127.48 445.3C128.33 445.26 129.14 445.24 129.92 445.07C130.7 444.9 131.44 444.6 132.16 444.28C132.88 443.96 133.57 443.59 134.23 443.17C134.89 442.76 135.53 442.29 136.13 441.78C136.74 441.28 137.32 440.73 137.88 440.15C138.43 439.57 138.97 438.95 139.47 438.31C139.98 437.67 140.47 436.99 140.93 436.29C141.4 435.6 141.84 434.87 142.27 434.14C142.69 433.4 143.1 432.64 143.49 431.88C143.88 431.12 144.24 430.34 144.6 429.56C144.96 428.78 145.29 427.99 145.62 427.2C145.94 426.41 146.25 425.62 146.55 424.83C146.85 424.04 147.13 423.25 147.4 422.46C147.67 421.66 147.93 420.87 148.18 420.07C148.43 419.28 148.67 418.48 148.89 417.69C149.12 416.89 149.34 416.09 149.55 415.29C149.75 414.49 149.95 413.69 150.14 412.89C150.34 412.08 150.52 411.28 150.69 410.48C150.87 409.67 151.04 408.87 151.2 408.06C151.37 407.25 151.53 406.45 151.68 405.64C151.83 404.83 151.98 404.02 152.13 403.21C152.27 402.4 152.41 401.59 152.55 400.78C152.69 399.97 152.83 399.16 152.96 398.34C153.1 397.53 153.23 396.72 153.36 395.9C153.5 395.09 153.63 394.27 153.76 393.46C153.9 392.64 154.03 391.83 154.17 391.01C154.3 390.19 154.44 389.37 154.58 388.56C154.72 387.74 154.86 386.92 155.01 386.1C155.16 385.28 155.31 384.46 155.46 383.64C155.62 382.82 155.78 382 155.94 381.18C156.11 380.36 156.28 379.54 156.45 378.71C156.62 377.89 156.8 377.07 156.98 376.25C157.16 375.43 157.34 374.6 157.52 373.78C157.71 372.96 157.89 372.13 158.08 371.31C158.27 370.49 158.45 369.66 158.64 368.84C158.83 368.02 159.01 367.19 159.2 366.37C159.39 365.54 159.57 364.72 159.76 363.89C159.94 363.07 160.12 362.24 160.3 361.42C160.48 360.6 160.66 359.77 160.83 358.95C161 358.12 161.17 357.3 161.34 356.47C161.5 355.65 161.66 354.82 161.82 354C161.97 353.17 162.12 352.35 162.27 351.53C162.41 350.7 162.55 349.88 162.68 349.05C162.81 348.23 162.94 347.41 163.06 346.58C163.18 345.76 163.29 344.94 163.41 344.11C163.52 343.29 163.63 342.47 163.74 341.64C163.85 340.82 163.95 340 164.06 339.18C164.17 338.36 164.27 337.53 164.38 336.71C164.49 335.89 164.61 335.07 164.72 334.25C164.84 333.43 164.95 332.61 165.08 331.79C165.2 330.97 165.33 330.15 165.46 329.34C165.59 328.52 165.73 327.7 165.87 326.88C166.01 326.07 166.15 325.25 166.3 324.43C166.45 323.62 166.6 322.8 166.76 321.99C166.91 321.17 167.07 320.36 167.24 319.54C167.41 318.73 167.58 317.92 167.75 317.11C167.93 316.29 168.11 315.48 168.29 314.67C168.48 313.86 168.67 313.05 168.86 312.24C169.05 311.44 169.25 310.63 169.45 309.82C169.66 309.01 169.87 308.21 170.08 307.4C170.29 306.6 170.51 305.79 170.73 304.99C170.95 304.19 171.18 303.39 171.42 302.58C171.65 301.78 171.89 300.98 172.13 300.18C172.37 299.38 172.62 298.59 172.87 297.79C173.12 296.99 173.38 296.2 173.65 295.4C173.91 294.61 174.18 293.81 174.45 293.02C174.73 292.24 175.01 291.45 175.29 290.67C175.58 289.89 175.87 289.11 176.17 288.34C176.47 287.56 176.77 286.8 177.09 286.04C177.42 285.28 177.71 284.53 178.12 283.79C178.54 283.05 179.03 282.27 179.6 281.61C180.17 280.96 180.86 280.27 181.55 279.85C182.23 279.43 183 279.11 183.73 279.07C184.46 279.02 185.22 279.24 185.93 279.57C186.63 279.9 187.33 280.5 187.96 281.06C188.59 281.62 189.17 282.26 189.71 282.9C190.25 283.55 190.75 284.25 191.21 284.95C191.68 285.65 192.1 286.38 192.5 287.11C192.9 287.84 193.26 288.57 193.63 289.31C193.99 290.05 194.33 290.8 194.69 291.54C195.04 292.29 195.39 293.04 195.77 293.78C196.14 294.52 196.53 295.26 196.96 295.97C197.39 296.68 197.87 297.37 198.35 298.05C198.84 298.74 199.39 299.38 199.87 300.07C200.35 300.75 200.83 301.44 201.23 302.16C201.63 302.88 201.96 303.64 202.28 304.41C202.6 305.17 202.86 305.96 203.14 306.75C203.42 307.54 203.68 308.34 203.96 309.12C204.23 309.91 204.52 310.7 204.81 311.48C205.11 312.26 205.41 313.04 205.72 313.81C206.03 314.58 206.35 315.35 206.68 316.12C207 316.89 207.33 317.65 207.67 318.41C208.01 319.17 208.35 319.93 208.7 320.69C209.05 321.44 209.41 322.2 209.76 322.95C210.12 323.7 210.49 324.45 210.85 325.2C211.22 325.95 211.59 326.7 211.96 327.44C212.33 328.19 212.71 328.93 213.09 329.68C213.46 330.42 213.84 331.17 214.22 331.91C214.6 332.65 214.98 333.39 215.36 334.14C215.75 334.88 216.13 335.62 216.51 336.36C216.89 337.1 217.27 337.85 217.65 338.59C218.03 339.33 218.41 340.08 218.79 340.82C219.17 341.56 219.54 342.31 219.92 343.05C220.3 343.79 220.68 344.54 221.06 345.28C221.44 346.02 221.82 346.76 222.2 347.5C222.58 348.24 222.97 348.99 223.35 349.72C223.74 350.46 224.12 351.2 224.51 351.94C224.9 352.67 225.29 353.41 225.69 354.14C226.08 354.88 226.48 355.61 226.88 356.34C227.28 357.07 227.68 357.8 228.09 358.52C228.5 359.25 228.91 359.97 229.32 360.69C229.74 361.41 230.15 362.13 230.58 362.84C231 363.56 231.43 364.27 231.86 364.98C232.3 365.69 232.73 366.4 233.18 367.1C233.62 367.81 234.07 368.51 234.53 369.2C234.99 369.9 235.45 370.59 235.92 371.28C236.38 371.97 236.86 372.65 237.34 373.33C237.83 374.01 238.31 374.69 238.81 375.36C239.31 376.03 239.81 376.7 240.33 377.36C240.84 378.02 241.36 378.68 241.89 379.33C242.42 379.97 242.96 380.61 243.52 381.23C244.07 381.85 244.64 382.46 245.21 383.05C245.79 383.64 246.38 384.21 246.99 384.76C247.6 385.31 248.24 385.82 248.85 386.35C249.46 386.88 250.11 387.37 250.68 387.95C251.25 388.52 251.77 389.15 252.26 389.81C252.75 390.47 253.16 391.24 253.62 391.93C254.08 392.63 254.53 393.34 255.05 393.97C255.57 394.6 256.15 395.16 256.73 395.72C257.31 396.28 257.94 396.79 258.56 397.31C259.17 397.84 259.8 398.36 260.43 398.88C261.06 399.39 261.7 399.9 262.35 400.41C263 400.91 263.65 401.42 264.31 401.91C264.97 402.41 265.63 402.9 266.3 403.38C266.98 403.87 267.65 404.35 268.34 404.83C269.02 405.3 269.71 405.77 270.4 406.23C271.1 406.7 271.8 407.16 272.51 407.61C273.21 408.06 273.92 408.51 274.64 408.95C275.36 409.39 276.08 409.82 276.8 410.25C277.53 410.68 278.26 411.1 278.99 411.52C279.73 411.93 280.47 412.34 281.21 412.74C281.96 413.15 282.7 413.54 283.46 413.93C284.21 414.32 284.96 414.7 285.72 415.08C286.48 415.45 287.25 415.82 288.01 416.18C288.78 416.54 289.55 416.9 290.32 417.24C291.09 417.59 291.87 417.93 292.65 418.26C293.42 418.59 294.21 418.92 294.99 419.23C295.77 419.55 296.56 419.86 297.35 420.16C298.14 420.46 298.93 420.75 299.72 421.03C300.51 421.32 301.31 421.59 302.1 421.86C302.9 422.13 303.7 422.39 304.5 422.64C305.3 422.89 306.1 423.13 306.9 423.36C307.7 423.6 308.5 423.82 309.31 424.04C310.11 424.25 310.91 424.46 311.72 424.66C312.52 424.85 313.33 425.04 314.13 425.22C314.94 425.4 315.75 425.57 316.55 425.73C317.36 425.9 318.17 426.05 318.97 426.2C319.78 426.35 320.59 426.49 321.39 426.62C322.2 426.76 323.01 426.89 323.82 427.02C324.63 427.15 325.43 427.27 326.24 427.39C327.05 427.51 327.86 427.63 328.67 427.75C329.48 427.87 330.29 427.98 331.1 428.1C331.91 428.22 332.72 428.33 333.53 428.45C334.34 428.57 335.15 428.69 335.96 428.81C336.77 428.94 337.58 429.06 338.39 429.19C339.21 429.32 340.02 429.45 340.83 429.59C341.64 429.73 342.45 429.88 343.27 430.03C344.08 430.17 344.89 430.33 345.71 430.49C346.52 430.65 347.33 430.81 348.15 430.98C348.96 431.15 349.77 431.32 350.59 431.49C351.4 431.67 352.22 431.85 353.03 432.03C353.85 432.21 354.66 432.4 355.48 432.58C356.29 432.77 357.11 432.96 357.93 433.15C358.74 433.35 359.56 433.54 360.37 433.74C361.19 433.93 362.01 434.13 362.82 434.33C363.64 434.53 364.46 434.73 365.28 434.93C366.09 435.13 366.91 435.34 367.73 435.54C368.55 435.74 369.37 435.94 370.18 436.15C371 436.35 371.82 436.55 372.64 436.75C373.46 436.95 374.28 437.16 375.1 437.36C375.92 437.56 376.74 437.75 377.56 437.95C378.38 438.15 379.2 438.34 380.02 438.53C380.84 438.73 381.66 438.92 382.48 439.1C383.3 439.29 384.12 439.48 384.95 439.66C385.77 439.84 386.59 440.01 387.41 440.19C388.23 440.36 389.06 440.53 389.88 440.69C390.7 440.86 391.52 441.02 392.35 441.17C393.17 441.33 393.99 441.48 394.82 441.62C395.64 441.77 396.46 441.91 397.29 442.04C398.11 442.17 398.94 442.3 399.76 442.42C400.58 442.54 401.41 442.65 402.23 442.76C403.06 442.87 403.88 442.97 404.71 443.07C405.54 443.17 406.36 443.26 407.19 443.34C408.01 443.43 408.84 443.51 409.67 443.59C410.49 443.66 411.32 443.74 412.15 443.8C412.97 443.87 413.8 443.93 414.63 443.99C415.45 444.05 416.28 444.11 417.11 444.16C417.94 444.21 418.76 444.26 419.59 444.3C420.42 444.35 421.25 444.39 422.08 444.42C422.91 444.46 423.74 444.5 424.56 444.53C425.39 444.56 426.22 444.59 427.05 444.62C427.88 444.64 428.71 444.67 429.54 444.69C430.37 444.71 431.2 444.73 432.03 444.75C432.86 444.77 433.69 444.78 434.52 444.8C435.35 444.82 436.19 444.83 437.02 444.84C437.85 444.85 438.68 444.87 439.51 444.88C440.34 444.89 441.17 444.9 442.01 444.91C442.84 444.92 443.67 444.93 444.5 444.94C445.34 444.95 446.17 444.96 447 444.97C447.83 444.98 449.08 444.99 449.5 445" stroke="#00f"/>
<path class="c" d="M332.2 143H365.4" stroke="#f00" stroke-dasharray="7.7 5"/>
<path class="c" d="M332.2 166H369.9" stroke="#00f"/>
<path class="t" d="M59.8 92.28L61.12 91.62L62.44 90.3M62.44 103.5L63.1 103.5M62.44 103.5L59.8 103.5M62.44 103.5L62.44 90.3M62.44 90.3L63.1 89.64L63.1 103.5M65.74 103.5L63.1 103.5M72.49 102.51L72.82 102.84L72.16 103.5L71.5 102.84L72.16 102.18M77.4 96.24L78.72 89.64L84.99 89.64M77.4 96.24L77.4 96.24M77.4 96.24L77.4 96.24M78.72 90.3L82.02 90.3L84.99 89.64M77.4 96.24L78.72 94.92L80.7 94.26L83.01 94.26M83.34 103.17L84.66 102.84L85.98 101.52L86.64 99.54L86.64 98.22L85.98 96.24L84.66 94.92L83.34 94.59M83.34 103.17L83.01 103.5M83.34 103.17L83.34 103.17M84.99 89.64L85.32 89.64M83.34 103.17L83.01 103.17M83.34 103.17L85.32 101.52L85.98 99.54L85.98 98.22L85.32 96.24L83.34 94.59M83.34 94.59L83.01 94.59M83.34 94.59L83.34 94.59M83.01 94.26L83.01 94.26M83.01 94.26L83.01 94.59M78.06 100.86L78.72 100.2L78.06 99.54L77.4 100.2L77.4 100.86L78.72 102.84L80.7 103.5L83.01 103.5M83.01 103.5L83.01 103.5M83.01 103.5L83.01 103.17M83.01 94.59L83.01 94.26M83.34 94.59L83.01 94.26M83.01 103.5L83.01 103.17M79.4 208.55L80.72 207.89L82.04 206.57M82.04 219.77L82.7 219.77M82.04 219.77L79.4 219.77M82.04 219.77L82.04 206.57M82.04 206.57L82.7 205.91L82.7 219.77M85.34 219.77L82.7 219.77M61.33 335.7L61.33 336.03M61.33 335.7L61.33 336.03M61.33 335.7L59.68 334.71L59.02 333.39L58.36 330.09L58.36 328.11L59.02 324.81L59.68 323.49L61.33 322.5M61.33 336.03L59.68 335.37L58.36 333.39L57.7 330.09L57.7 328.11L58.36 324.81L59.68 322.83L61.33 322.17M61.33 336.03L61.33 336.03M61.33 336.03L63.31 336.03M61.33 336.03L61.33 336.03M61.33 336.03L61.33 336.03M63.31 336.03L63.31 336.03M63.31 336.03L63.31 335.7M63.31 322.17L63.64 322.5M63.31 322.17L63.31 322.5M63.31 322.17L63.31 322.17M61.33 322.17L61.33 322.17M61.33 322.17L61.33 322.17M61.33 322.17L61.33 322.5M63.31 322.17L61.33 322.17M63.31 322.17L63.31 322.5M63.64 335.7L63.31 335.7M63.64 335.7L63.64 335.7M63.64 335.7L64.96 334.71L65.62 333.39L66.28 330.09L66.28 328.11L65.62 324.81L64.96 323.49L63.64 322.5M61.33 336.03L61.33 336.03M63.64 322.5L64.96 322.83L66.28 324.81L66.94 328.11L66.94 330.09L66.28 333.39L64.96 335.37L63.64 335.7M63.64 322.5L63.64 322.5M61.33 322.17L61.33 322.5M61.33 322.17L61.33 322.17M63.64 322.5L63.31 322.5M63.64 335.7L63.31 336.03M61.33 322.17L61.33 322.17M63.31 336.03L63.31 335.7M72.49 335.04L72.82 335.37L72.16 336.03L71.5 335.37L72.16 334.71M77.4 328.77L78.72 322.17L84.99 322.17M77.4 328.77L77.4 328.77M77.4 328.77L77.4 328.77M78.72 322.83L82.02 322.83L84.99 322.17M77.4 328.77L78.72 327.45L80.7 326.79L83.01 326.79M83.34 335.7L84.66 335.37L85.98 334.05L86.64 332.07L86.64 330.75L85.98 328.77L84.66 327.45L83.34 327.12M83.34 335.7L83.01 336.03M83.34 335.7L83.34 335.7M84.99 322.17L85.32 322.17M83.34 335.7L83.01 335.7M83.34 335.7L85.32 334.05L85.98 332.07L85.98 330.75L85.32 328.77L83.34 327.12M83.34 327.12L83.01 327.12M83.34 327.12L83.34 327.12M83.01 326.79L83.01 326.79M83.01 326.79L83.01 327.12M78.06 333.39L78.72 332.73L78.06 332.07L77.4 332.73L77.4 333.39L78.72 335.37L80.7 336.03L83.01 336.03M83.01 336.03L83.01 336.03M83.01 336.03L83.01 335.7M83.01 327.12L83.01 326.79M83.34 327.12L83.01 326.79M83.01 336.03L83.01 335.7M81.03 451.97L81.03 452.3M81.03 451.97L81.03 452.3M81.03 451.97L79.38 450.98L78.72 449.66L78.06 446.36L78.06 444.38L78.72 441.08L79.38 439.76L81.03 438.77M81.03 452.3L79.38 451.64L78.06 449.66L77.4 446.36L77.4 444.38L78.06 441.08L79.38 439.1L81.03 438.44M81.03 452.3L81.03 452.3M81.03 452.3L83.01 452.3M81.03 452.3L81.03 452.3M81.03 452.3L81.03 452.3M83.01 452.3L83.01 452.3M83.01 452.3L83.01 451.97M83.01 438.44L83.34 438.77M83.01 438.44L83.01 438.77M83.01 438.44L83.01 438.44M81.03 438.44L81.03 438.44M81.03 438.44L81.03 438.44M81.03 438.44L81.03 438.77M83.01 438.44L81.03 438.44M83.01 438.44L83.01 438.77M83.34 451.97L83.01 451.97M83.34 451.97L83.34 451.97M83.34 451.97L84.66 450.98L85.32 449.66L85.98 446.36L85.98 444.38L85.32 441.08L84.66 439.76L83.34 438.77M81.03 452.3L81.03 452.3M83.34 438.77L84.66 439.1L85.98 441.08L86.64 444.38L86.64 446.36L85.98 449.66L84.66 451.64L83.34 451.97M83.34 438.77L83.34 438.77M81.03 438.44L81.03 438.77M81.03 438.44L81.03 438.44M83.34 438.77L83.01 438.77M83.34 451.97L83.01 452.3M81.03 438.44L81.03 438.44M83.01 452.3L83.01 451.97M112.4 461.08L113.72 460.42L115.04 459.1M115.04 472.3L115.7 472.3M115.04 472.3L112.4 472.3M115.04 472.3L115.04 459.1M115.04 459.1L115.7 458.44L115.7 472.3M118.34 472.3L115.7 472.3M127.08 471.97L127.08 472.3M127.08 471.97L127.08 472.3M127.08 471.97L125.43 470.98L124.77 469.66L124.11 466.36L124.11 464.38L124.77 461.08L125.43 459.76L127.08 458.77M127.08 472.3L125.43 471.64L124.11 469.66L123.45 466.36L123.45 464.38L124.11 461.08L125.43 459.1L127.08 458.44M127.08 472.3L127.08 472.3M127.08 472.3L129.06 472.3M127.08 472.3L127.08 472.3M127.08 472.3L127.08 472.3M129.06 472.3L129.06 472.3M129.06 472.3L129.06 471.97M129.06 458.44L129.39 458.77M129.06 458.44L129.06 458.77M129.06 458.44L129.06 458.44M127.08 458.44L127.08 458.44M127.08 458.44L127.08 458.44M127.08 458.44L127.08 458.77M129.06 458.44L127.08 458.44M129.06 458.44L129.06 458.77M129.39 471.97L129.06 471.97M129.39 471.97L129.39 471.97M129.39 471.97L130.71 470.98L131.37 469.66L132.03 466.36L132.03 464.38L131.37 461.08L130.71 459.76L129.39 458.77M127.08 472.3L127.08 472.3M129.39 458.77L130.71 459.1L132.03 461.08L132.69 464.38L132.69 466.36L132.03 469.66L130.71 471.64L129.39 471.97M129.39 458.77L129.39 458.77M127.08 458.44L127.08 458.77M127.08 458.44L127.08 458.44M129.39 458.77L129.06 458.77M129.39 471.97L129.06 472.3M127.08 458.44L127.08 458.44M129.06 472.3L129.06 471.97M136.81 458.62L137.62 458.21L138.44 457.4M138.44 465.5L138.84 465.5M138.44 465.5L136.81 465.5M138.44 465.5L138.44 457.4M138.44 457.4L138.84 457L138.84 465.5M140.46 465.5L138.84 465.5M175.02 461.08L176.34 460.42L177.66 459.1M177.66 472.3L178.32 472.3M177.66 472.3L175.02 472.3M177.66 472.3L177.66 459.1M177.66 459.1L178.32 458.44L178.32 472.3M180.96 472.3L178.32 472.3M189.7 471.97L189.7 472.3M189.7 471.97L189.7 472.3M189.7 471.97L188.05 470.98L187.39 469.66L186.73 466.36L186.73 464.38L187.39 461.08L188.05 459.76L189.7 458.77M189.7 472.3L188.05 471.64L186.73 469.66L186.07 466.36L186.07 464.38L186.73 461.08L188.05 459.1L189.7 458.44M189.7 472.3L189.7 472.3M189.7 472.3L191.68 472.3M189.7 472.3L189.7 472.3M189.7 472.3L189.7 472.3M191.68 472.3L191.68 472.3M191.68 472.3L191.68 471.97M191.68 458.44L192.01 458.77M191.68 458.44L191.68 458.77M191.68 458.44L191.68 458.44M189.7 458.44L189.7 458.44M189.7 458.44L189.7 458.44M189.7 458.44L189.7 458.77M191.68 458.44L189.7 458.44M191.68 458.44L191.68 458.77M192.01 471.97L191.68 471.97M192.01 471.97L192.01 471.97M192.01 471.97L193.33 470.98L193.99 469.66L194.65 466.36L194.65 464.38L193.99 461.08L193.33 459.76L192.01 458.77M189.7 472.3L189.7 472.3M192.01 458.77L193.33 459.1L194.65 461.08L195.31 464.38L195.31 466.36L194.65 469.66L193.33 471.64L192.01 471.97M192.01 458.77L192.01 458.77M189.7 458.44L189.7 458.77M189.7 458.44L189.7 458.44M192.01 458.77L191.68 458.77M192.01 471.97L191.68 472.3M189.7 458.44L189.7 458.44M191.68 472.3L191.68 471.97M203.89 464.29L203.08 465.5L201.46 465.5L199.64 464.49M203.89 464.29L203.89 464.29M203.89 464.29L203.89 464.29M202.07 457L202.07 457M202.07 457L200.25 457L199.03 457.4L198.62 457.81L198.22 458.62L198.22 459.02L198.62 459.43L199.03 459.02L198.62 458.62M202.07 457L202.07 457.2M203.89 464.29L203.89 464.29M203.89 464.29L203.89 463.48M200.85 461.65L200.65 461.65M200.85 461.65L200.85 461.65M200.85 461.65L200.85 461.65M200.85 461.65L200.85 461.65M200.85 461.65L200.65 461.65M202.27 457.2L203.08 457.4L203.48 457.81L203.89 458.62L203.89 459.43L203.48 460.24L202.27 461.05L200.85 461.65M202.27 457.2L202.27 457.2M202.27 457.2L202.07 457M199.64 464.29L199.64 464.29M199.64 464.29L199.64 464.29M199.64 464.29L199.64 464.29M200.65 461.65L200.65 461.65M200.65 461.65L200.65 461.65M200.65 461.65L200.65 461.65M198.22 464.69L198.62 464.29L199.64 464.29M198.22 464.69L198.22 465.5M198.22 464.69L198.62 463.07L199.44 462.26L200.65 461.65M200.65 461.65L200.65 461.65M200.65 461.65L200.65 461.65M202.27 457.2L202.07 457.2M202.27 457.2L203.08 457.81L203.48 458.62L203.48 459.43L203.08 460.24L200.85 461.65M200.65 461.65L200.65 461.65M200.85 461.65L200.85 461.65M199.64 464.29L199.64 464.29M199.64 464.49L199.64 464.29M199.64 464.49L199.64 464.29M202.07 457.2L202.07 457M203.89 464.29L202.67 465.1L201.46 465.1L199.64 464.29M237.64 461.08L238.96 460.42L240.28 459.1M240.28 472.3L240.94 472.3M240.28 472.3L237.64 472.3M240.28 472.3L240.28 459.1M240.28 459.1L240.94 458.44L240.94 472.3M243.58 472.3L240.94 472.3M252.32 471.97L252.32 472.3M252.32 471.97L252.32 472.3M252.32 471.97L250.67 470.98L250.01 469.66L249.35 466.36L249.35 464.38L250.01 461.08L250.67 459.76L252.32 458.77M252.32 472.3L250.67 471.64L249.35 469.66L248.69 466.36L248.69 464.38L249.35 461.08L250.67 459.1L252.32 458.44M252.32 472.3L252.32 472.3M252.32 472.3L254.3 472.3M252.32 472.3L252.32 472.3M252.32 472.3L252.32 472.3M254.3 472.3L254.3 472.3M254.3 472.3L254.3 471.97M254.3 458.44L254.63 458.77M254.3 458.44L254.3 458.77M254.3 458.44L254.3 458.44M252.32 458.44L252.32 458.44M252.32 458.44L252.32 458.44M252.32 458.44L252.32 458.77M254.3 458.44L252.32 458.44M254.3 458.44L254.3 458.77M254.63 471.97L254.3 471.97M254.63 471.97L254.63 471.97M254.63 471.97L255.95 470.98L256.61 469.66L257.27 466.36L257.27 464.38L256.61 461.08L255.95 459.76L254.63 458.77M252.32 472.3L252.32 472.3M254.63 458.77L255.95 459.1L257.27 461.08L257.93 464.38L257.93 466.36L257.27 469.66L255.95 471.64L254.63 471.97M254.63 458.77L254.63 458.77M252.32 458.44L252.32 458.77M252.32 458.44L252.32 458.44M254.63 458.77L254.3 458.77M254.63 471.97L254.3 472.3M252.32 458.44L252.32 458.44M254.3 472.3L254.3 471.97M264.69 457L264.69 457M264.69 457L262.87 457L261.65 457.4L261.25 457.81L260.84 458.62L260.84 459.02L261.25 459.43L261.65 459.02L261.25 458.62M264.69 457L264.69 457.2M264.89 460.44L264.69 460.44M264.89 460.44L264.89 460.44M264.89 460.44L265.3 460.24L265.7 459.43L265.7 458.21L265.3 457.4L264.89 457.2M264.89 465.3L264.69 465.3M264.89 465.3L264.89 465.3M264.89 465.3L265.7 464.69L266.11 463.88L266.11 462.67L265.7 461.45M261.25 463.88L261.65 463.48L261.25 463.07L260.84 463.48L260.84 463.88L261.25 464.69L261.65 465.1L262.87 465.5L264.69 465.5M264.89 457.2L265.7 457.4L266.11 458.21L266.11 459.43L265.7 460.24L264.89 460.44M264.89 457.2L264.89 457.2M264.89 457.2L264.69 457M264.89 460.44L264.69 460.64M264.89 457.2L264.69 457.2M264.89 465.3L265.7 465.1L266.51 463.88L266.51 462.67L265.7 461.45M264.89 465.3L264.69 465.5M264.69 460.64L264.69 460.44M264.69 460.64L264.69 460.64M264.49 460.64L263.27 460.64M264.49 460.64L265.3 461.05L265.7 461.45M264.49 460.64L264.69 460.64M264.69 465.5L264.69 465.3M264.69 465.5L264.69 465.5M264.69 457.2L264.69 457M264.69 460.44L264.69 460.64M264.69 465.3L264.69 465.5M300.26 461.08L301.58 460.42L302.9 459.1M302.9 472.3L303.56 472.3M302.9 472.3L300.26 472.3M302.9 472.3L302.9 459.1M302.9 459.1L303.56 458.44L303.56 472.3M306.2 472.3L303.56 472.3M314.94 471.97L314.94 472.3M314.94 471.97L314.94 472.3M314.94 471.97L313.29 470.98L312.63 469.66L311.97 466.36L311.97 464.38L312.63 461.08L313.29 459.76L314.94 458.77M314.94 472.3L313.29 471.64L311.97 469.66L311.31 466.36L311.31 464.38L311.97 461.08L313.29 459.1L314.94 458.44M314.94 472.3L314.94 472.3M314.94 472.3L316.92 472.3M314.94 472.3L314.94 472.3M314.94 472.3L314.94 472.3M316.92 472.3L316.92 472.3M316.92 472.3L316.92 471.97M316.92 458.44L317.25 458.77M316.92 458.44L316.92 458.77M316.92 458.44L316.92 458.44M314.94 458.44L314.94 458.44M314.94 458.44L314.94 458.44M314.94 458.44L314.94 458.77M316.92 458.44L314.94 458.44M316.92 458.44L316.92 458.77M317.25 471.97L316.92 471.97M317.25 471.97L317.25 471.97M317.25 471.97L318.57 470.98L319.23 469.66L319.89 466.36L319.89 464.38L319.23 461.08L318.57 459.76L317.25 458.77M314.94 472.3L314.94 472.3M317.25 458.77L318.57 459.1L319.89 461.08L320.55 464.38L320.55 466.36L319.89 469.66L318.57 471.64L317.25 471.97M317.25 458.77L317.25 458.77M314.94 458.44L314.94 458.77M314.94 458.44L314.94 458.44M317.25 458.77L316.92 458.77M317.25 471.97L316.92 472.3M314.94 458.44L314.94 458.44M316.92 472.3L316.92 471.97M327.51 457L323.06 463.07L327.11 463.07M327.51 457L327.51 463.07M327.51 457L327.51 457M327.51 463.07L329.54 463.07M327.51 463.07L327.11 463.07M327.51 463.07L327.51 465.5M327.51 465.5L328.73 465.5M327.51 465.5L327.11 465.5M327.11 457.81L327.11 463.07M325.89 465.5L327.11 465.5M327.11 463.07L327.11 465.5M362.88 461.08L364.2 460.42L365.52 459.1M365.52 472.3L366.18 472.3M365.52 472.3L362.88 472.3M365.52 472.3L365.52 459.1M365.52 459.1L366.18 458.44L366.18 472.3M368.82 472.3L366.18 472.3M377.56 471.97L377.56 472.3M377.56 471.97L377.56 472.3M377.56 471.97L375.91 470.98L375.25 469.66L374.59 466.36L374.59 464.38L375.25 461.08L375.91 459.76L377.56 458.77M377.56 472.3L375.91 471.64L374.59 469.66L373.93 466.36L373.93 464.38L374.59 461.08L375.91 459.1L377.56 458.44M377.56 472.3L377.56 472.3M377.56 472.3L379.54 472.3M377.56 472.3L377.56 472.3M377.56 472.3L377.56 472.3M379.54 472.3L379.54 472.3M379.54 472.3L379.54 471.97M379.54 458.44L379.87 458.77M379.54 458.44L379.54 458.77M379.54 458.44L379.54 458.44M377.56 458.44L377.56 458.44M377.56 458.44L377.56 458.44M377.56 458.44L377.56 458.77M379.54 458.44L377.56 458.44M379.54 458.44L379.54 458.77M379.87 471.97L379.54 471.97M379.87 471.97L379.87 471.97M379.87 471.97L381.19 470.98L381.85 469.66L382.51 466.36L382.51 464.38L381.85 461.08L381.19 459.76L379.87 458.77M377.56 472.3L377.56 472.3M379.87 458.77L381.19 459.1L382.51 461.08L383.17 464.38L383.17 466.36L382.51 469.66L381.19 471.64L379.87 471.97M379.87 458.77L379.87 458.77M377.56 458.44L377.56 458.77M377.56 458.44L377.56 458.44M379.87 458.77L379.54 458.77M379.87 471.97L379.54 472.3M377.56 458.44L377.56 458.44M379.54 472.3L379.54 471.97M386.08 461.05L386.89 457L390.74 457M386.08 461.05L386.08 461.05M386.08 461.05L386.08 461.05M386.89 457.4L388.92 457.4L390.74 457M386.08 461.05L386.89 460.24L388.11 459.83L389.52 459.83M389.73 465.3L390.54 465.1L391.35 464.29L391.75 463.07L391.75 462.26L391.35 461.05L390.54 460.24L389.73 460.03M389.73 465.3L389.52 465.5M389.73 465.3L389.73 465.3M390.74 457L390.94 457M389.73 465.3L389.52 465.3M389.73 465.3L390.94 464.29L391.35 463.07L391.35 462.26L390.94 461.05L389.73 460.03M389.73 460.03L389.52 460.03M389.73 460.03L389.73 460.03M389.52 459.83L389.52 459.83M389.52 459.83L389.52 460.03M386.49 463.88L386.89 463.48L386.49 463.07L386.08 463.48L386.08 463.88L386.89 465.1L388.11 465.5L389.52 465.5M389.52 465.5L389.52 465.5M389.52 465.5L389.52 465.3M389.52 460.03L389.52 459.83M389.73 460.03L389.52 459.83M389.52 465.5L389.52 465.3M425.5 461.08L426.82 460.42L428.14 459.1M428.14 472.3L428.8 472.3M428.14 472.3L425.5 472.3M428.14 472.3L428.14 459.1M428.14 459.1L428.8 458.44L428.8 472.3M431.44 472.3L428.8 472.3M440.18 471.97L440.18 472.3M440.18 471.97L440.18 472.3M440.18 471.97L438.53 470.98L437.87 469.66L437.21 466.36L437.21 464.38L437.87 461.08L438.53 459.76L440.18 458.77M440.18 472.3L438.53 471.64L437.21 469.66L436.55 466.36L436.55 464.38L437.21 461.08L438.53 459.1L440.18 458.44M440.18 472.3L440.18 472.3M440.18 472.3L442.16 472.3M440.18 472.3L440.18 472.3M440.18 472.3L440.18 472.3M442.16 472.3L442.16 472.3M442.16 472.3L442.16 471.97M442.16 458.44L442.49 458.77M442.16 458.44L442.16 458.77M442.16 458.44L442.16 458.44M440.18 458.44L440.18 458.44M440.18 458.44L440.18 458.44M440.18 458.44L440.18 458.77M442.16 458.44L440.18 458.44M442.16 458.44L442.16 458.77M442.49 471.97L442.16 471.97M442.49 471.97L442.49 471.97M442.49 471.97L443.81 470.98L444.47 469.66L445.13 466.36L445.13 464.38L444.47 461.08L443.81 459.76L442.49 458.77M440.18 472.3L440.18 472.3M442.49 458.77L443.81 459.1L445.13 461.08L445.79 464.38L445.79 466.36L445.13 469.66L443.81 471.64L442.49 471.97M442.49 458.77L442.49 458.77M440.18 458.44L440.18 458.77M440.18 458.44L440.18 458.44M442.49 458.77L442.16 458.77M442.49 471.97L442.16 472.3M440.18 458.44L440.18 458.44M442.16 472.3L442.16 471.97M450.93 465.3L450.93 465.5M450.93 465.3L450.93 465.5M450.93 465.3L450.32 465.1L449.51 464.29L449.11 463.07L449.11 462.67M450.93 465.5L449.92 465.1L449.11 464.29L448.7 463.07L448.7 460.64L449.11 459.02L449.51 458.21L450.32 457.4L451.33 457M450.93 465.5L450.93 465.5M450.93 465.5L452.14 465.5M450.93 465.5L450.93 465.5M450.93 465.5L450.93 465.5M452.14 465.5L452.14 465.5M452.14 465.5L452.14 465.3M449.11 462.67L449.51 461.45L450.32 460.64L451.54 460.24L452.14 460.24M449.11 462.67L449.11 460.64L449.51 459.02L449.92 458.21L450.73 457.4L451.33 457.2M452.14 460.24L452.35 460.44M452.14 460.24L452.14 460.44M452.14 460.24L452.14 460.24M452.35 465.3L452.14 465.3M452.35 465.3L452.35 465.3M452.35 465.3L453.56 464.29L453.97 463.07L453.56 461.45L452.35 460.44M452.14 460.24L452.14 460.44M451.33 457L451.33 457M451.33 457L451.33 457M451.33 457L451.33 457M450.93 465.5L450.93 465.5M451.33 457L451.33 457.2M452.35 460.44L453.16 460.64L453.97 461.45L454.37 462.67L453.97 464.29L453.16 465.1L452.35 465.3M452.35 460.44L452.35 460.44M451.33 457.2L451.33 457M452.35 465.3L452.14 465.5M453.56 458.21L453.16 458.62L453.56 459.02L453.97 458.62L453.97 458.21L453.56 457.4L452.75 457L451.33 457M452.35 460.44L452.14 460.44M451.33 457L451.33 457M452.14 465.5L452.14 465.3M173.63 506.4L173.63 506.4M173.63 506.4L173.63 506.4M173.63 506.4L173.63 506.2M173.63 506.2L173.63 506.4M173.63 506.2L173.02 506L172.21 505.19L171.81 503.97L171.81 503.16L172.21 501.94L173.02 501.13L173.63 500.93M173.63 500.73L173.63 500.73M173.63 500.73L173.63 500.73M173.63 500.73L173.63 500.93M173.63 506.4L172.62 506L171.81 505.19L171.4 503.97L171.4 503.16L171.81 501.94L172.62 501.13L173.63 500.73M173.63 506.4L173.63 506.4M176.26 497.89L176.66 497.89L176.66 506.4M176.26 497.89L175.05 497.89M176.26 497.89L176.26 501.94M173.63 500.73L173.63 500.93M173.63 500.73L173.63 500.73M176.26 505.19L175.45 506L174.64 506.4L173.63 506.4M176.26 505.19L176.26 506.4L176.66 506.4M176.26 505.19L176.26 501.94M173.63 500.73L173.63 500.73M173.63 506.4L173.63 506.4M177.88 506.4L176.66 506.4M176.26 501.94L175.45 501.13L174.64 500.73L173.63 500.73M188.61 500.73L188.61 500.73M188.61 500.73L187.6 500.73L186.38 501.13L185.57 501.94M188.61 500.73L188.61 500.93M184.16 500.73L184.16 500.73M184.16 500.73L183.15 500.73L181.93 501.13L181.12 501.94M184.16 500.73L184.16 500.93M179.5 500.73L180.72 500.73M184.36 500.93L185.17 501.13L185.57 501.94M184.36 500.93L184.36 500.93M184.36 500.93L184.16 500.73M184.36 500.93L184.16 500.93M184.36 500.93L184.76 501.13L185.17 501.94L185.17 506.4M188.81 500.93L189.62 501.13L190.03 501.94L190.03 506.4M188.81 500.93L188.81 500.93M188.81 500.93L188.61 500.73M188.81 500.93L188.61 500.93M188.81 500.93L189.22 501.13L189.62 501.94L189.62 506.4M180.72 500.73L181.12 500.73L181.12 501.94M180.72 500.73L180.72 506.4M185.57 501.94L185.57 506.4M184.16 500.93L184.16 500.73M181.12 506.4L182.34 506.4M181.12 506.4L180.72 506.4M181.12 506.4L181.12 501.94M188.61 500.93L188.61 500.73M190.03 506.4L191.25 506.4M190.03 506.4L189.62 506.4M179.5 506.4L180.72 506.4M185.57 506.4L186.79 506.4M185.57 506.4L185.17 506.4M188.41 506.4L189.62 506.4M183.95 506.4L185.17 506.4M205.36 505.12L209.32 505.12M205.36 505.12L204.7 505.12L204.7 484L205.36 484M205.36 505.12L205.36 484M209.32 484L205.36 484M219.4 500.5L219.4 500.5M219.4 500.5L224.02 486.64M219.4 500.5L214.78 486.64M214.78 486.64L215.44 486.64L219.4 498.52M214.78 486.64L212.8 486.64M214.78 486.64L214.78 486.64M226.66 486.64L224.68 486.64M216.76 500.5L214.78 500.5M214.78 500.5L212.8 500.5M214.78 500.5L214.78 486.64M224.02 500.5L224.68 500.5M224.02 500.5L222.04 500.5M224.02 500.5L224.02 486.64M226.66 500.5L224.68 500.5M224.68 500.5L224.68 486.64M224.02 486.64L224.68 486.64M239.8 505.12L251.68 484M256.38 486.64L257.04 486.64L257.04 493.24M256.38 486.64L254.4 486.64M256.38 486.64L256.38 500.5M263.64 500.5L264.3 500.5M263.64 500.5L261.66 500.5M263.64 500.5L263.64 493.24L262.98 491.92L262.32 491.59M261.99 491.26L262.32 491.59M261.99 491.26L261.99 491.59M261.99 491.26L261.99 491.26M261.99 491.26L260.34 491.26L258.36 491.92L257.04 493.24M261.99 491.26L261.99 491.59M259.02 500.5L257.04 500.5M257.04 500.5L256.38 500.5M257.04 500.5L257.04 493.24M256.38 500.5L254.4 500.5M262.32 491.59L263.64 491.92L264.3 493.24L264.3 500.5M262.32 491.59L262.32 491.59M264.3 500.5L266.28 500.5M262.32 491.59L261.99 491.59M283.17 503.14L283.17 503.14M283.17 503.14L283.17 503.14M283.17 503.14L280.86 499.18L280.2 495.88L280.2 493.24L280.86 489.94L283.17 485.65M284.82 505.12L283.17 503.47M284.82 484L283.5 485.65M283.17 503.47L283.17 503.47M283.17 503.47L283.17 503.47M283.17 503.47L283.17 503.47M283.17 503.47L283.17 503.14M283.17 485.65L283.17 485.65M283.17 485.65L283.17 485.98M283.17 503.14L283.17 503.47M283.17 503.14L283.17 503.14M283.17 485.65L283.5 485.65M283.17 485.65L283.5 485.65M283.17 485.65L283.17 485.65M283.17 503.14L283.17 503.14M283.5 485.65L283.17 485.65M283.5 485.65L283.5 485.65M283.17 485.98L281.52 489.94L280.86 493.24L280.86 495.88L281.52 499.18L283.17 503.14M283.17 485.98L283.17 485.65M283.17 485.65L283.17 485.65M290.48 486.64L291.14 486.64L291.14 497.86M290.48 486.64L288.5 486.64M290.48 486.64L290.48 500.5M295.76 491.26L297.74 491.26M297.74 491.26L299.72 491.26M297.74 491.26L293.78 495.22M293.78 495.22L297.74 500.5M293.78 495.22L291.14 497.86M298.4 500.5L299.72 500.5M298.4 500.5L297.74 500.5M298.4 500.5L294.44 495.22M295.76 500.5L297.74 500.5M293.12 500.5L291.14 500.5M291.14 500.5L290.48 500.5M291.14 500.5L291.14 497.86M290.48 500.5L288.5 500.5M309.76 500.17L311.08 499.84L312.4 498.52L313.06 496.54L313.06 495.22L312.4 493.24L311.08 491.92L309.76 491.59M309.76 500.17L309.43 500.5M309.76 500.17L309.76 500.17M305.14 498.52L306.46 499.84L307.78 500.5L309.43 500.5M305.14 498.52L305.14 505.12M305.14 498.52L305.14 493.24M309.76 500.17L309.43 500.17M309.76 500.17L311.74 498.52L312.4 496.54L312.4 495.22L311.74 493.24L309.76 491.59M304.48 491.26L305.14 491.26L305.14 493.24M304.48 491.26L302.5 491.26M304.48 491.26L304.48 505.12M309.76 491.59L309.43 491.59M309.76 491.59L309.76 491.59M309.43 491.26L309.43 491.26M309.43 491.26L307.78 491.26L306.46 491.92L305.14 493.24M309.43 491.26L309.43 491.59M309.43 491.59L309.43 491.26M309.43 491.26L309.76 491.59M309.43 500.5L309.43 500.5M309.43 500.5L309.43 500.17M307.12 505.12L305.14 505.12M309.43 500.5L309.43 500.17M305.14 505.12L304.48 505.12M304.48 505.12L302.5 505.12M320.83 500.5L320.83 500.5M320.83 500.5L320.83 500.5M320.83 500.5L320.83 500.17M320.83 500.17L320.83 500.5M320.83 500.17L319.84 499.84L318.52 498.52L317.86 496.54L317.86 495.22L318.52 493.24L319.84 491.92L320.83 491.59M320.83 491.26L320.83 491.26M320.83 491.26L320.83 491.26M320.83 491.26L320.83 491.59M320.83 500.5L319.18 499.84L317.86 498.52L317.2 496.54L317.2 495.22L317.86 493.24L319.18 491.92L320.83 491.26M320.83 500.5L320.83 500.5M320.83 491.26L320.83 491.59M320.83 491.26L320.83 491.26M320.83 491.26L320.83 491.26M325.12 493.24L324.46 493.9L325.12 494.56L325.78 493.9L325.78 493.24L324.46 491.92L323.14 491.26L320.83 491.26M320.83 500.5L322.48 500.5L324.46 499.84L325.78 498.52M320.83 500.5L320.83 500.5M328.5 505.12L340.38 484M345.38 486.64L346.04 486.64L346.04 493.24M345.38 486.64L343.4 486.64M345.38 486.64L345.38 500.5M352.64 500.5L353.3 500.5M352.64 500.5L350.66 500.5M352.64 500.5L352.64 493.24L351.98 491.92L351.32 491.59M350.99 491.26L351.32 491.59M350.99 491.26L350.99 491.59M350.99 491.26L350.99 491.26M350.99 491.26L349.34 491.26L347.36 491.92L346.04 493.24M350.99 491.26L350.99 491.59M348.02 500.5L346.04 500.5M346.04 500.5L345.38 500.5M346.04 500.5L346.04 493.24M345.38 500.5L343.4 500.5M351.32 491.59L352.64 491.92L353.3 493.24L353.3 500.5M351.32 491.59L351.32 491.59M353.3 500.5L355.28 500.5M351.32 491.59L350.99 491.59M358.2 484L359.52 485.65M359.85 503.47L359.85 503.47M359.85 503.47L359.85 503.14M359.85 503.47L359.85 503.47M359.85 503.47L359.85 503.47M359.85 503.47L359.85 503.14M359.85 485.65L359.85 485.65M359.85 485.65L359.85 485.65M359.85 485.65L359.85 485.65M359.85 503.47L358.2 505.12M359.52 485.65L359.85 485.65M359.52 485.65L359.52 485.65M359.85 485.98L361.5 489.94L362.16 493.24L362.16 495.88L361.5 499.18L359.85 503.14M359.85 485.98L359.85 485.65M359.85 485.98L359.85 485.65M359.85 485.65L359.52 485.65M359.85 503.14L359.85 503.14M359.85 503.14L359.85 503.14M359.85 503.14L359.85 503.14M359.85 503.14L359.85 503.14M359.85 485.65L362.16 489.94L362.82 493.24L362.82 495.88L362.16 499.18L359.85 503.14M359.85 485.65L359.52 485.65M385.6 484L389.56 484M385.6 505.12L389.56 505.12M389.56 484L390.22 484L390.22 505.12L389.56 505.12M389.56 484L389.56 505.12M367.1 490.56L374.39 490.56M380.15 485.69L380.15 485.69M380.15 485.69L378.33 485.69L377.11 486.1L376.71 486.5L376.3 487.31L376.3 487.72L376.71 488.12L377.11 487.72L376.71 487.31M380.15 485.69L380.15 485.9M380.35 489.14L380.15 489.14M380.35 489.14L380.35 489.14M380.35 489.14L380.76 488.94L381.16 488.12L381.16 486.91L380.76 486.1L380.35 485.9M380.35 494L380.15 494M380.35 494L380.35 494M380.35 494L381.16 493.39L381.57 492.58L381.57 491.37L381.16 490.15M376.71 492.58L377.11 492.18L376.71 491.77L376.3 492.18L376.3 492.58L376.71 493.39L377.11 493.8L378.33 494.2L380.15 494.2M380.35 485.9L381.16 486.1L381.57 486.91L381.57 488.12L381.16 488.94L380.35 489.14M380.35 485.9L380.35 485.9M380.35 485.9L380.15 485.69M380.35 489.14L380.15 489.34M380.35 485.9L380.15 485.9M380.35 494L381.16 493.8L381.97 492.58L381.97 491.37L381.16 490.15M380.35 494L380.15 494.2M380.15 489.34L380.15 489.14M380.15 489.34L380.15 489.34M379.95 489.34L378.73 489.34M379.95 489.34L380.76 489.75L381.16 490.15M379.95 489.34L380.15 489.34M380.15 494.2L380.15 494M380.15 494.2L380.15 494.2M380.15 485.9L380.15 485.69M380.15 489.14L380.15 489.34M380.15 494L380.15 494.2" stroke="#000"/>
<path class="t" d="M387.92 129.44L388.58 129.44M387.92 129.44L383.96 129.44M387.92 129.44L387.92 143.3M393.2 133.07L393.2 133.4M393.2 133.07L393.2 129.44L392.54 129.44M393.2 133.07L392.54 129.44M383.96 129.44L383.3 129.44L383.3 133.07M383.96 129.44L383.3 133.07M392.54 129.44L388.58 129.44M390.56 143.3L388.58 143.3M388.58 143.3L387.92 143.3M388.58 143.3L388.58 129.44M387.92 143.3L385.94 143.3M383.3 133.4L383.3 133.07M405.74 129.44L405.74 129.44M396.5 132.74L397.82 134.06L404.42 136.7L405.74 138.35M396.5 132.74L396.5 132.74M396.5 132.74L396.5 132.74M396.5 143.3L397.16 141.32M396.5 143.3L396.5 143.3M396.5 143.3L396.5 139.34M405.74 138.68L405.74 138.68M405.74 138.68L405.74 141.32L404.42 142.64L402.44 143.3L400.46 143.3L398.48 142.64L397.16 141.32M405.74 138.68L405.74 138.35M397.16 141.32L396.5 139.34M396.5 139.34L396.5 139.34M396.5 132.74L397.82 134.72L404.42 137.36L405.74 138.68M396.5 132.74L396.5 132.74M405.74 129.44L405.74 133.4M405.74 129.44L405.08 131.42M405.74 133.4L405.74 133.4M396.5 132.74L396.5 131.42L397.82 130.1L399.8 129.44L401.78 129.44L403.76 130.1L405.08 131.42M405.08 131.42L405.74 133.4M405.74 138.35L405.74 138.68M419 129.44L419 129.44M419 133.4L419 133.4M413.39 129.44L413.39 129.44M413.39 129.44L413.39 129.44M413.39 129.44L413.39 129.44M419 140L418.34 141.32L417.02 142.64L415.04 143.3L413.39 143.3M413.39 129.77L413.39 129.44M413.39 129.77L412.4 130.1L411.08 131.42L409.76 134.72L409.76 138.02L411.08 141.32L412.4 142.64L413.39 142.97M413.39 129.77L413.39 129.44M413.39 143.3L413.39 143.3M413.39 143.3L413.39 143.3M419 133.4L419 129.44M419 133.4L418.34 131.42M413.39 142.97L413.39 143.3M413.39 142.97L413.39 143.3M413.39 143.3L413.39 143.3M413.39 143.3L413.39 143.3M418.34 131.42L417.02 130.1L415.04 129.44L413.39 129.44M418.34 131.42L419 129.44M413.39 143.3L411.74 142.64L410.42 141.32L409.1 138.02L409.1 134.72L410.42 131.42L411.74 130.1L413.39 129.44M413.39 129.44L413.39 129.44" stroke="#f00"/>
<path class="t" d="M393.24 152.04L393.24 152.04M384 155.34L385.32 156.66L391.92 159.3L393.24 160.95M384 155.34L384 155.34M384 155.34L384 155.34M384 165.9L384.66 163.92M384 165.9L384 165.9M384 165.9L384 161.94M393.24 161.28L393.24 161.28M393.24 161.28L393.24 163.92L391.92 165.24L389.94 165.9L387.96 165.9L385.98 165.24L384.66 163.92M393.24 161.28L393.24 160.95M384.66 163.92L384 161.94M384 161.94L384 161.94M384 155.34L385.32 157.32L391.92 159.96L393.24 161.28M384 155.34L384 155.34M393.24 152.04L393.24 156M393.24 152.04L392.58 154.02M393.24 156L393.24 156M384 155.34L384 154.02L385.32 152.7L387.3 152.04L389.28 152.04L391.26 152.7L392.58 154.02M392.58 154.02L393.24 156M393.24 160.95L393.24 161.28M404.35 152.04L404.68 152.37M404.35 152.04L404.35 152.37M404.35 152.04L404.35 152.04M398.74 152.04L404.35 152.04M398.74 152.04L398.08 152.04M398.74 152.04L398.74 159.3M398.08 152.04L396.1 152.04M398.08 152.04L398.08 165.9M404.68 158.97L404.35 158.97M404.68 158.97L404.68 158.97M404.68 158.97L406 157.98L406.66 156.66L406.66 154.68L406 153.36L404.68 152.37M404.68 152.37L404.35 152.37M404.68 152.37L404.68 152.37M404.35 152.04L404.35 152.37M404.68 158.97L406 158.64L407.32 156.66L407.32 154.68L406.66 153.36L406 152.7L404.68 152.37M404.68 158.97L404.35 159.3M404.35 159.3L404.35 159.3M404.35 159.3L398.74 159.3M404.35 159.3L404.35 158.97M398.74 159.3L398.74 165.9M400.72 165.9L398.74 165.9M398.74 165.9L398.08 165.9M398.08 165.9L396.1 165.9M404.35 159.3L404.35 158.97M422.52 152.04L424.5 152.04M422.52 152.04L421.86 152.04M422.52 152.04L422.52 165.9M415.92 152.04L413.94 152.04M413.94 152.04L413.28 152.04M413.94 152.04L413.94 158.64M413.28 152.04L411.3 152.04M413.28 152.04L413.28 165.9M421.86 152.04L419.88 152.04M421.86 152.04L421.86 158.64M424.5 165.9L422.52 165.9M421.86 158.64L413.94 158.64M421.86 158.64L421.86 165.9M413.94 158.64L413.94 165.9M415.92 165.9L413.94 165.9M413.94 165.9L413.28 165.9M413.28 165.9L411.3 165.9M422.52 165.9L421.86 165.9M421.86 165.9L419.88 165.9" stroke="#00f"/>
<g transform="translate(35.5 280.7) rotate(-90)"><path class="t" d="M3.14 -13.86L7.43 -13.86M3.14 -13.86L2.48 -13.86M3.14 -13.86L3.14 0M2.48 -13.86L0.5 -13.86M2.48 -13.86L2.48 0M7.76 -13.53L7.43 -13.53M7.76 -13.53L9.74 -11.88L11.06 -8.58L11.06 -5.28L9.74 -1.98L7.76 -0.33M7.76 -13.53L7.76 -13.53M7.76 -0.33L9.08 -0.66L10.4 -1.98L11.72 -5.28L11.72 -8.58L10.4 -11.88L9.08 -13.2L7.76 -13.53M7.76 -0.33L7.43 0M7.76 -0.33L7.76 -0.33M7.43 -13.86L7.43 -13.86M7.43 -13.86L7.43 -13.53M7.76 -0.33L7.43 -0.33M7.43 -13.53L7.43 -13.86M3.14 0L7.43 0M3.14 0L2.48 0M2.48 0L0.5 0M7.43 0L7.43 0M7.43 0L7.43 -0.33M7.43 -13.86L7.76 -13.53M7.43 0L7.43 -0.33" stroke="#000"/><path class="t" d="M13.7 8.17L14.47 5.09L15.2 1.77L15.81 0.64L16.62 -0.05L17.67 -0.25L18.76 0.03L19.45 0.84L19.65 2.05L19.37 3.47L18.64 4.57L17.83 5.21L16.98 5.38L16.01 5.25L15.28 4.81L14.87 4.08L14.75 3.47" stroke="#000" style="stroke-width:0.95"/></g>
<path class="t" d="M158 504.53L159.25 499.51L160.44 494.1L161.43 492.25L162.75 491.13L164.47 490.8L166.25 491.26L167.37 492.58L167.7 494.56L167.24 496.87L166.05 498.65L164.73 499.71L163.35 499.97L161.76 499.77L160.57 499.05L159.91 497.86L159.72 496.87" stroke="#000" style="stroke-width:1.3"/>
<circle cx="233.2" cy="502.3" r="4.25" fill="none" stroke="#000" stroke-width="1.15"/>
<circle cx="233.2" cy="502.3" r="1.1" fill="#000"/>
</svg>
</body></html>
